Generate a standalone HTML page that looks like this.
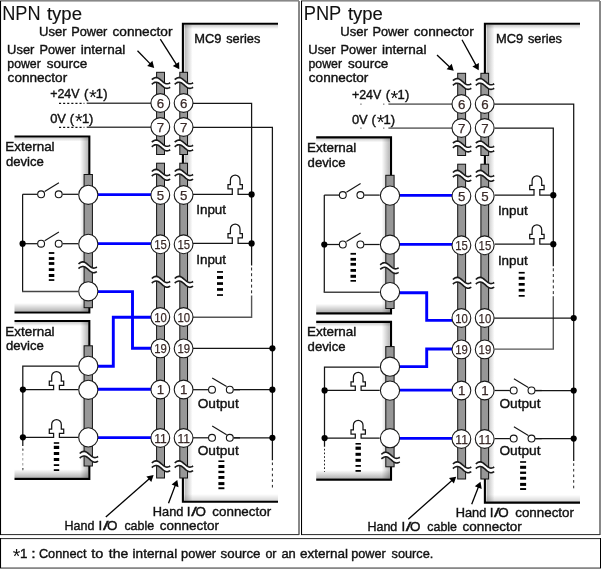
<!DOCTYPE html>
<html lang="en"><head><meta charset="utf-8"><title>NPN / PNP type wiring</title>
<style>html,body{margin:0;padding:0;background:#fff}svg{display:block}text{font-family:"Liberation Sans",sans-serif}</style></head><body>
<svg width="601" height="569" viewBox="0 0 601 569" style="will-change:transform">
<defs>
<linearGradient id="gL" x1="0" y1="0" x2="1" y2="0"><stop offset="0" stop-color="#000" stop-opacity=".28"/><stop offset="1" stop-color="#000" stop-opacity="0"/></linearGradient>
<linearGradient id="gR" x1="1" y1="0" x2="0" y2="0"><stop offset="0" stop-color="#000" stop-opacity=".28"/><stop offset="1" stop-color="#000" stop-opacity="0"/></linearGradient>
<linearGradient id="gT" x1="0" y1="0" x2="0" y2="1"><stop offset="0" stop-color="#000" stop-opacity=".2"/><stop offset="1" stop-color="#000" stop-opacity="0"/></linearGradient>
<linearGradient id="gB" x1="0" y1="1" x2="0" y2="0"><stop offset="0" stop-color="#000" stop-opacity=".3"/><stop offset="1" stop-color="#000" stop-opacity="0"/></linearGradient>
</defs>
<rect width="601" height="569" fill="#fff"/>
<g>
<rect x="184.6" y="25" width="8" height="475.8" fill="url(#gL)"/>
<rect x="184" y="25" width="94" height="4" fill="url(#gT)"/>
<rect x="184" y="494.0" width="94" height="7" fill="url(#gB)" opacity=".55"/>
<polyline points="278.0,23.8 182.9,23.8 182.9,501.8 278.0,501.8" fill="none" stroke="#000" stroke-width="2.1"/>
<rect x="80" y="137.5" width="8" height="174.0" fill="url(#gR)"/>
<rect x="14.5" y="137.5" width="74" height="4" fill="url(#gT)"/>
<rect x="14.5" y="303.0" width="74" height="8.5" fill="url(#gB)"/>
<polyline points="14.5,136.5 89.3,136.5 89.3,312.5 14.5,312.5" fill="none" stroke="#000" stroke-width="2.15"/>
<rect x="84.1" y="174.5" width="8.3" height="133.2" fill="#979797" stroke="#111" stroke-width="1"/>
<rect x="80" y="322.0" width="8" height="155.8" fill="url(#gR)"/>
<rect x="14.5" y="322.0" width="74" height="4" fill="url(#gT)"/>
<rect x="14.5" y="469.3" width="74" height="8.5" fill="url(#gB)"/>
<polyline points="14.5,321.0 89.3,321.0 89.3,478.8 14.5,478.8" fill="none" stroke="#000" stroke-width="2.15"/>
<rect x="84.1" y="345.8" width="8.3" height="120.2" fill="#979797" stroke="#111" stroke-width="1"/>
<polygon points="78.5,264.0 79.3,263.3 80.1,262.8 80.9,262.3 81.7,262.1 82.5,261.9 83.3,261.9 84.1,262.1 84.9,262.4 85.7,262.9 86.5,263.5 87.3,264.1 88.1,264.8 88.9,265.5 89.7,266.2 90.5,266.8 91.3,267.3 92.1,267.7 92.9,268.0 93.7,268.1 94.5,268.0 95.3,267.8 96.1,267.5 96.9,267.0 96.9,271.6 96.1,272.1 95.3,272.4 94.5,272.6 93.7,272.7 92.9,272.6 92.1,272.3 91.3,271.9 90.5,271.4 89.7,270.8 88.9,270.1 88.1,269.4 87.3,268.7 86.5,268.1 85.7,267.5 84.9,267.0 84.1,266.7 83.3,266.5 82.5,266.5 81.7,266.7 80.9,266.9 80.1,267.4 79.3,267.9 78.5,268.6" fill="#fff"/>
<polyline points="78.5,264.0 79.3,263.3 80.1,262.8 80.9,262.3 81.7,262.1 82.5,261.9 83.3,261.9 84.1,262.1 84.9,262.4 85.7,262.9 86.5,263.5 87.3,264.1 88.1,264.8 88.9,265.5 89.7,266.2 90.5,266.8 91.3,267.3 92.1,267.7 92.9,268.0 93.7,268.1 94.5,268.0 95.3,267.8 96.1,267.5 96.9,267.0" fill="none" stroke="#1a1a1a" stroke-width="1.6"/>
<polyline points="78.5,268.6 79.3,267.9 80.1,267.4 80.9,266.9 81.7,266.7 82.5,266.5 83.3,266.5 84.1,266.7 84.9,267.0 85.7,267.5 86.5,268.1 87.3,268.7 88.1,269.4 88.9,270.1 89.7,270.8 90.5,271.4 91.3,271.9 92.1,272.3 92.9,272.6 93.7,272.7 94.5,272.6 95.3,272.4 96.1,272.1 96.9,271.6" fill="none" stroke="#1a1a1a" stroke-width="1.6"/>
<polygon points="79.7,453.5 80.5,452.8 81.3,452.3 82.1,451.8 82.9,451.6 83.7,451.4 84.5,451.4 85.3,451.6 86.1,451.9 86.9,452.4 87.7,453.0 88.5,453.6 89.3,454.3 90.1,455.0 90.9,455.7 91.7,456.3 92.5,456.8 93.3,457.2 94.1,457.5 94.9,457.6 95.7,457.5 96.5,457.3 97.3,457.0 98.1,456.5 98.1,461.1 97.3,461.6 96.5,461.9 95.7,462.1 94.9,462.2 94.1,462.1 93.3,461.8 92.5,461.4 91.7,460.9 90.9,460.3 90.1,459.6 89.3,458.9 88.5,458.2 87.7,457.6 86.9,457.0 86.1,456.5 85.3,456.2 84.5,456.0 83.7,456.0 82.9,456.2 82.1,456.4 81.3,456.9 80.5,457.4 79.7,458.1" fill="#fff"/>
<polyline points="79.7,453.5 80.5,452.8 81.3,452.3 82.1,451.8 82.9,451.6 83.7,451.4 84.5,451.4 85.3,451.6 86.1,451.9 86.9,452.4 87.7,453.0 88.5,453.6 89.3,454.3 90.1,455.0 90.9,455.7 91.7,456.3 92.5,456.8 93.3,457.2 94.1,457.5 94.9,457.6 95.7,457.5 96.5,457.3 97.3,457.0 98.1,456.5" fill="none" stroke="#1a1a1a" stroke-width="1.6"/>
<polyline points="79.7,458.1 80.5,457.4 81.3,456.9 82.1,456.4 82.9,456.2 83.7,456.0 84.5,456.0 85.3,456.2 86.1,456.5 86.9,457.0 87.7,457.6 88.5,458.2 89.3,458.9 90.1,459.6 90.9,460.3 91.7,460.9 92.5,461.4 93.3,461.8 94.1,462.1 94.9,462.2 95.7,462.1 96.5,461.9 97.3,461.6 98.1,461.1" fill="none" stroke="#1a1a1a" stroke-width="1.6"/>
<rect x="156.6" y="72.3" width="7.9" height="82.2" fill="#979797" stroke="#111" stroke-width="1"/>
<rect x="156.6" y="163.2" width="7.9" height="314.8" fill="#979797" stroke="#111" stroke-width="1"/>
<rect x="179.8" y="72.3" width="7.7" height="82.2" fill="#979797" stroke="#111" stroke-width="1"/>
<rect x="179.8" y="163.2" width="7.7" height="314.8" fill="#979797" stroke="#111" stroke-width="1"/>
<polygon points="151.8,79.7 152.6,79.0 153.4,78.5 154.2,78.0 155.0,77.8 155.8,77.6 156.6,77.6 157.4,77.8 158.2,78.1 159.0,78.6 159.8,79.2 160.6,79.8 161.4,80.5 162.2,81.2 163.0,81.9 163.8,82.5 164.6,83.0 165.4,83.4 166.2,83.7 167.0,83.8 167.8,83.7 168.6,83.5 169.4,83.2 170.2,82.7 170.2,87.3 169.4,87.8 168.6,88.1 167.8,88.3 167.0,88.4 166.2,88.3 165.4,88.0 164.6,87.6 163.8,87.1 163.0,86.5 162.2,85.8 161.4,85.1 160.6,84.4 159.8,83.8 159.0,83.2 158.2,82.7 157.4,82.4 156.6,82.2 155.8,82.2 155.0,82.4 154.2,82.6 153.4,83.1 152.6,83.6 151.8,84.3" fill="#fff"/>
<polyline points="151.8,79.7 152.6,79.0 153.4,78.5 154.2,78.0 155.0,77.8 155.8,77.6 156.6,77.6 157.4,77.8 158.2,78.1 159.0,78.6 159.8,79.2 160.6,79.8 161.4,80.5 162.2,81.2 163.0,81.9 163.8,82.5 164.6,83.0 165.4,83.4 166.2,83.7 167.0,83.8 167.8,83.7 168.6,83.5 169.4,83.2 170.2,82.7" fill="none" stroke="#1a1a1a" stroke-width="1.6"/>
<polyline points="151.8,84.3 152.6,83.6 153.4,83.1 154.2,82.6 155.0,82.4 155.8,82.2 156.6,82.2 157.4,82.4 158.2,82.7 159.0,83.2 159.8,83.8 160.6,84.4 161.4,85.1 162.2,85.8 163.0,86.5 163.8,87.1 164.6,87.6 165.4,88.0 166.2,88.3 167.0,88.4 167.8,88.3 168.6,88.1 169.4,87.8 170.2,87.3" fill="none" stroke="#1a1a1a" stroke-width="1.6"/>
<polygon points="174.7,79.7 175.5,79.0 176.3,78.5 177.1,78.0 177.9,77.8 178.7,77.6 179.5,77.6 180.3,77.8 181.1,78.1 181.9,78.6 182.7,79.2 183.5,79.8 184.3,80.5 185.1,81.2 185.9,81.9 186.7,82.5 187.5,83.0 188.3,83.4 189.1,83.7 189.9,83.8 190.7,83.7 191.5,83.5 192.3,83.2 193.1,82.7 193.1,87.3 192.3,87.8 191.5,88.1 190.7,88.3 189.9,88.4 189.1,88.3 188.3,88.0 187.5,87.6 186.7,87.1 185.9,86.5 185.1,85.8 184.3,85.1 183.5,84.4 182.7,83.8 181.9,83.2 181.1,82.7 180.3,82.4 179.5,82.2 178.7,82.2 177.9,82.4 177.1,82.6 176.3,83.1 175.5,83.6 174.7,84.3" fill="#fff"/>
<polyline points="174.7,79.7 175.5,79.0 176.3,78.5 177.1,78.0 177.9,77.8 178.7,77.6 179.5,77.6 180.3,77.8 181.1,78.1 181.9,78.6 182.7,79.2 183.5,79.8 184.3,80.5 185.1,81.2 185.9,81.9 186.7,82.5 187.5,83.0 188.3,83.4 189.1,83.7 189.9,83.8 190.7,83.7 191.5,83.5 192.3,83.2 193.1,82.7" fill="none" stroke="#1a1a1a" stroke-width="1.6"/>
<polyline points="174.7,84.3 175.5,83.6 176.3,83.1 177.1,82.6 177.9,82.4 178.7,82.2 179.5,82.2 180.3,82.4 181.1,82.7 181.9,83.2 182.7,83.8 183.5,84.4 184.3,85.1 185.1,85.8 185.9,86.5 186.7,87.1 187.5,87.6 188.3,88.0 189.1,88.3 189.9,88.4 190.7,88.3 191.5,88.1 192.3,87.8 193.1,87.3" fill="none" stroke="#1a1a1a" stroke-width="1.6"/>
<polygon points="151.8,142.2 152.6,141.5 153.4,141.0 154.2,140.5 155.0,140.3 155.8,140.1 156.6,140.1 157.4,140.3 158.2,140.6 159.0,141.1 159.8,141.7 160.6,142.3 161.4,143.0 162.2,143.7 163.0,144.4 163.8,145.0 164.6,145.5 165.4,145.9 166.2,146.2 167.0,146.3 167.8,146.2 168.6,146.0 169.4,145.7 170.2,145.2 170.2,149.8 169.4,150.3 168.6,150.6 167.8,150.8 167.0,150.9 166.2,150.8 165.4,150.5 164.6,150.1 163.8,149.6 163.0,149.0 162.2,148.3 161.4,147.6 160.6,146.9 159.8,146.3 159.0,145.7 158.2,145.2 157.4,144.9 156.6,144.7 155.8,144.7 155.0,144.9 154.2,145.1 153.4,145.6 152.6,146.1 151.8,146.8" fill="#fff"/>
<polyline points="151.8,142.2 152.6,141.5 153.4,141.0 154.2,140.5 155.0,140.3 155.8,140.1 156.6,140.1 157.4,140.3 158.2,140.6 159.0,141.1 159.8,141.7 160.6,142.3 161.4,143.0 162.2,143.7 163.0,144.4 163.8,145.0 164.6,145.5 165.4,145.9 166.2,146.2 167.0,146.3 167.8,146.2 168.6,146.0 169.4,145.7 170.2,145.2" fill="none" stroke="#1a1a1a" stroke-width="1.6"/>
<polyline points="151.8,146.8 152.6,146.1 153.4,145.6 154.2,145.1 155.0,144.9 155.8,144.7 156.6,144.7 157.4,144.9 158.2,145.2 159.0,145.7 159.8,146.3 160.6,146.9 161.4,147.6 162.2,148.3 163.0,149.0 163.8,149.6 164.6,150.1 165.4,150.5 166.2,150.8 167.0,150.9 167.8,150.8 168.6,150.6 169.4,150.3 170.2,149.8" fill="none" stroke="#1a1a1a" stroke-width="1.6"/>
<polygon points="174.7,142.2 175.5,141.5 176.3,141.0 177.1,140.5 177.9,140.3 178.7,140.1 179.5,140.1 180.3,140.3 181.1,140.6 181.9,141.1 182.7,141.7 183.5,142.3 184.3,143.0 185.1,143.7 185.9,144.4 186.7,145.0 187.5,145.5 188.3,145.9 189.1,146.2 189.9,146.3 190.7,146.2 191.5,146.0 192.3,145.7 193.1,145.2 193.1,149.8 192.3,150.3 191.5,150.6 190.7,150.8 189.9,150.9 189.1,150.8 188.3,150.5 187.5,150.1 186.7,149.6 185.9,149.0 185.1,148.3 184.3,147.6 183.5,146.9 182.7,146.3 181.9,145.7 181.1,145.2 180.3,144.9 179.5,144.7 178.7,144.7 177.9,144.9 177.1,145.1 176.3,145.6 175.5,146.1 174.7,146.8" fill="#fff"/>
<polyline points="174.7,142.2 175.5,141.5 176.3,141.0 177.1,140.5 177.9,140.3 178.7,140.1 179.5,140.1 180.3,140.3 181.1,140.6 181.9,141.1 182.7,141.7 183.5,142.3 184.3,143.0 185.1,143.7 185.9,144.4 186.7,145.0 187.5,145.5 188.3,145.9 189.1,146.2 189.9,146.3 190.7,146.2 191.5,146.0 192.3,145.7 193.1,145.2" fill="none" stroke="#1a1a1a" stroke-width="1.6"/>
<polyline points="174.7,146.8 175.5,146.1 176.3,145.6 177.1,145.1 177.9,144.9 178.7,144.7 179.5,144.7 180.3,144.9 181.1,145.2 181.9,145.7 182.7,146.3 183.5,146.9 184.3,147.6 185.1,148.3 185.9,149.0 186.7,149.6 187.5,150.1 188.3,150.5 189.1,150.8 189.9,150.9 190.7,150.8 191.5,150.6 192.3,150.3 193.1,149.8" fill="none" stroke="#1a1a1a" stroke-width="1.6"/>
<polygon points="151.8,171.5 152.6,170.8 153.4,170.3 154.2,169.8 155.0,169.6 155.8,169.4 156.6,169.4 157.4,169.6 158.2,169.9 159.0,170.4 159.8,171.0 160.6,171.6 161.4,172.3 162.2,173.0 163.0,173.7 163.8,174.3 164.6,174.8 165.4,175.2 166.2,175.5 167.0,175.6 167.8,175.5 168.6,175.3 169.4,175.0 170.2,174.5 170.2,179.1 169.4,179.6 168.6,179.9 167.8,180.1 167.0,180.2 166.2,180.1 165.4,179.8 164.6,179.4 163.8,178.9 163.0,178.3 162.2,177.6 161.4,176.9 160.6,176.2 159.8,175.6 159.0,175.0 158.2,174.5 157.4,174.2 156.6,174.0 155.8,174.0 155.0,174.2 154.2,174.4 153.4,174.9 152.6,175.4 151.8,176.1" fill="#fff"/>
<polyline points="151.8,171.5 152.6,170.8 153.4,170.3 154.2,169.8 155.0,169.6 155.8,169.4 156.6,169.4 157.4,169.6 158.2,169.9 159.0,170.4 159.8,171.0 160.6,171.6 161.4,172.3 162.2,173.0 163.0,173.7 163.8,174.3 164.6,174.8 165.4,175.2 166.2,175.5 167.0,175.6 167.8,175.5 168.6,175.3 169.4,175.0 170.2,174.5" fill="none" stroke="#1a1a1a" stroke-width="1.6"/>
<polyline points="151.8,176.1 152.6,175.4 153.4,174.9 154.2,174.4 155.0,174.2 155.8,174.0 156.6,174.0 157.4,174.2 158.2,174.5 159.0,175.0 159.8,175.6 160.6,176.2 161.4,176.9 162.2,177.6 163.0,178.3 163.8,178.9 164.6,179.4 165.4,179.8 166.2,180.1 167.0,180.2 167.8,180.1 168.6,179.9 169.4,179.6 170.2,179.1" fill="none" stroke="#1a1a1a" stroke-width="1.6"/>
<polygon points="174.7,171.5 175.5,170.8 176.3,170.3 177.1,169.8 177.9,169.6 178.7,169.4 179.5,169.4 180.3,169.6 181.1,169.9 181.9,170.4 182.7,171.0 183.5,171.6 184.3,172.3 185.1,173.0 185.9,173.7 186.7,174.3 187.5,174.8 188.3,175.2 189.1,175.5 189.9,175.6 190.7,175.5 191.5,175.3 192.3,175.0 193.1,174.5 193.1,179.1 192.3,179.6 191.5,179.9 190.7,180.1 189.9,180.2 189.1,180.1 188.3,179.8 187.5,179.4 186.7,178.9 185.9,178.3 185.1,177.6 184.3,176.9 183.5,176.2 182.7,175.6 181.9,175.0 181.1,174.5 180.3,174.2 179.5,174.0 178.7,174.0 177.9,174.2 177.1,174.4 176.3,174.9 175.5,175.4 174.7,176.1" fill="#fff"/>
<polyline points="174.7,171.5 175.5,170.8 176.3,170.3 177.1,169.8 177.9,169.6 178.7,169.4 179.5,169.4 180.3,169.6 181.1,169.9 181.9,170.4 182.7,171.0 183.5,171.6 184.3,172.3 185.1,173.0 185.9,173.7 186.7,174.3 187.5,174.8 188.3,175.2 189.1,175.5 189.9,175.6 190.7,175.5 191.5,175.3 192.3,175.0 193.1,174.5" fill="none" stroke="#1a1a1a" stroke-width="1.6"/>
<polyline points="174.7,176.1 175.5,175.4 176.3,174.9 177.1,174.4 177.9,174.2 178.7,174.0 179.5,174.0 180.3,174.2 181.1,174.5 181.9,175.0 182.7,175.6 183.5,176.2 184.3,176.9 185.1,177.6 185.9,178.3 186.7,178.9 187.5,179.4 188.3,179.8 189.1,180.1 189.9,180.2 190.7,180.1 191.5,179.9 192.3,179.6 193.1,179.1" fill="none" stroke="#1a1a1a" stroke-width="1.6"/>
<polygon points="151.8,278.5 152.6,277.8 153.4,277.3 154.2,276.8 155.0,276.6 155.8,276.4 156.6,276.4 157.4,276.6 158.2,276.9 159.0,277.4 159.8,278.0 160.6,278.6 161.4,279.3 162.2,280.0 163.0,280.7 163.8,281.3 164.6,281.8 165.4,282.2 166.2,282.5 167.0,282.6 167.8,282.5 168.6,282.3 169.4,282.0 170.2,281.5 170.2,286.1 169.4,286.6 168.6,286.9 167.8,287.1 167.0,287.2 166.2,287.1 165.4,286.8 164.6,286.4 163.8,285.9 163.0,285.3 162.2,284.6 161.4,283.9 160.6,283.2 159.8,282.6 159.0,282.0 158.2,281.5 157.4,281.2 156.6,281.0 155.8,281.0 155.0,281.2 154.2,281.4 153.4,281.9 152.6,282.4 151.8,283.1" fill="#fff"/>
<polyline points="151.8,278.5 152.6,277.8 153.4,277.3 154.2,276.8 155.0,276.6 155.8,276.4 156.6,276.4 157.4,276.6 158.2,276.9 159.0,277.4 159.8,278.0 160.6,278.6 161.4,279.3 162.2,280.0 163.0,280.7 163.8,281.3 164.6,281.8 165.4,282.2 166.2,282.5 167.0,282.6 167.8,282.5 168.6,282.3 169.4,282.0 170.2,281.5" fill="none" stroke="#1a1a1a" stroke-width="1.6"/>
<polyline points="151.8,283.1 152.6,282.4 153.4,281.9 154.2,281.4 155.0,281.2 155.8,281.0 156.6,281.0 157.4,281.2 158.2,281.5 159.0,282.0 159.8,282.6 160.6,283.2 161.4,283.9 162.2,284.6 163.0,285.3 163.8,285.9 164.6,286.4 165.4,286.8 166.2,287.1 167.0,287.2 167.8,287.1 168.6,286.9 169.4,286.6 170.2,286.1" fill="none" stroke="#1a1a1a" stroke-width="1.6"/>
<polygon points="174.7,278.5 175.5,277.8 176.3,277.3 177.1,276.8 177.9,276.6 178.7,276.4 179.5,276.4 180.3,276.6 181.1,276.9 181.9,277.4 182.7,278.0 183.5,278.6 184.3,279.3 185.1,280.0 185.9,280.7 186.7,281.3 187.5,281.8 188.3,282.2 189.1,282.5 189.9,282.6 190.7,282.5 191.5,282.3 192.3,282.0 193.1,281.5 193.1,286.1 192.3,286.6 191.5,286.9 190.7,287.1 189.9,287.2 189.1,287.1 188.3,286.8 187.5,286.4 186.7,285.9 185.9,285.3 185.1,284.6 184.3,283.9 183.5,283.2 182.7,282.6 181.9,282.0 181.1,281.5 180.3,281.2 179.5,281.0 178.7,281.0 177.9,281.2 177.1,281.4 176.3,281.9 175.5,282.4 174.7,283.1" fill="#fff"/>
<polyline points="174.7,278.5 175.5,277.8 176.3,277.3 177.1,276.8 177.9,276.6 178.7,276.4 179.5,276.4 180.3,276.6 181.1,276.9 181.9,277.4 182.7,278.0 183.5,278.6 184.3,279.3 185.1,280.0 185.9,280.7 186.7,281.3 187.5,281.8 188.3,282.2 189.1,282.5 189.9,282.6 190.7,282.5 191.5,282.3 192.3,282.0 193.1,281.5" fill="none" stroke="#1a1a1a" stroke-width="1.6"/>
<polyline points="174.7,283.1 175.5,282.4 176.3,281.9 177.1,281.4 177.9,281.2 178.7,281.0 179.5,281.0 180.3,281.2 181.1,281.5 181.9,282.0 182.7,282.6 183.5,283.2 184.3,283.9 185.1,284.6 185.9,285.3 186.7,285.9 187.5,286.4 188.3,286.8 189.1,287.1 189.9,287.2 190.7,287.1 191.5,286.9 192.3,286.6 193.1,286.1" fill="none" stroke="#1a1a1a" stroke-width="1.6"/>
<polygon points="151.8,463.0 152.6,462.3 153.4,461.8 154.2,461.3 155.0,461.1 155.8,460.9 156.6,460.9 157.4,461.1 158.2,461.4 159.0,461.9 159.8,462.5 160.6,463.1 161.4,463.8 162.2,464.5 163.0,465.2 163.8,465.8 164.6,466.3 165.4,466.7 166.2,467.0 167.0,467.1 167.8,467.0 168.6,466.8 169.4,466.5 170.2,466.0 170.2,470.6 169.4,471.1 168.6,471.4 167.8,471.6 167.0,471.7 166.2,471.6 165.4,471.3 164.6,470.9 163.8,470.4 163.0,469.8 162.2,469.1 161.4,468.4 160.6,467.7 159.8,467.1 159.0,466.5 158.2,466.0 157.4,465.7 156.6,465.5 155.8,465.5 155.0,465.7 154.2,465.9 153.4,466.4 152.6,466.9 151.8,467.6" fill="#fff"/>
<polyline points="151.8,463.0 152.6,462.3 153.4,461.8 154.2,461.3 155.0,461.1 155.8,460.9 156.6,460.9 157.4,461.1 158.2,461.4 159.0,461.9 159.8,462.5 160.6,463.1 161.4,463.8 162.2,464.5 163.0,465.2 163.8,465.8 164.6,466.3 165.4,466.7 166.2,467.0 167.0,467.1 167.8,467.0 168.6,466.8 169.4,466.5 170.2,466.0" fill="none" stroke="#1a1a1a" stroke-width="1.6"/>
<polyline points="151.8,467.6 152.6,466.9 153.4,466.4 154.2,465.9 155.0,465.7 155.8,465.5 156.6,465.5 157.4,465.7 158.2,466.0 159.0,466.5 159.8,467.1 160.6,467.7 161.4,468.4 162.2,469.1 163.0,469.8 163.8,470.4 164.6,470.9 165.4,471.3 166.2,471.6 167.0,471.7 167.8,471.6 168.6,471.4 169.4,471.1 170.2,470.6" fill="none" stroke="#1a1a1a" stroke-width="1.6"/>
<polygon points="174.7,463.0 175.5,462.3 176.3,461.8 177.1,461.3 177.9,461.1 178.7,460.9 179.5,460.9 180.3,461.1 181.1,461.4 181.9,461.9 182.7,462.5 183.5,463.1 184.3,463.8 185.1,464.5 185.9,465.2 186.7,465.8 187.5,466.3 188.3,466.7 189.1,467.0 189.9,467.1 190.7,467.0 191.5,466.8 192.3,466.5 193.1,466.0 193.1,470.6 192.3,471.1 191.5,471.4 190.7,471.6 189.9,471.7 189.1,471.6 188.3,471.3 187.5,470.9 186.7,470.4 185.9,469.8 185.1,469.1 184.3,468.4 183.5,467.7 182.7,467.1 181.9,466.5 181.1,466.0 180.3,465.7 179.5,465.5 178.7,465.5 177.9,465.7 177.1,465.9 176.3,466.4 175.5,466.9 174.7,467.6" fill="#fff"/>
<polyline points="174.7,463.0 175.5,462.3 176.3,461.8 177.1,461.3 177.9,461.1 178.7,460.9 179.5,460.9 180.3,461.1 181.1,461.4 181.9,461.9 182.7,462.5 183.5,463.1 184.3,463.8 185.1,464.5 185.9,465.2 186.7,465.8 187.5,466.3 188.3,466.7 189.1,467.0 189.9,467.1 190.7,467.0 191.5,466.8 192.3,466.5 193.1,466.0" fill="none" stroke="#1a1a1a" stroke-width="1.6"/>
<polyline points="174.7,467.6 175.5,466.9 176.3,466.4 177.1,465.9 177.9,465.7 178.7,465.5 179.5,465.5 180.3,465.7 181.1,466.0 181.9,466.5 182.7,467.1 183.5,467.7 184.3,468.4 185.1,469.1 185.9,469.8 186.7,470.4 187.5,470.9 188.3,471.3 189.1,471.6 189.9,471.7 190.7,471.6 191.5,471.4 192.3,471.1 193.1,470.6" fill="none" stroke="#1a1a1a" stroke-width="1.6"/>
<line x1="59.0" y1="103.3" x2="84.4" y2="103.3" stroke="#111" stroke-width="1.3" stroke-dasharray="2.1 2"/>
<line x1="86.7" y1="103.3" x2="151.0" y2="103.3" stroke="#444" stroke-width="1.4"/>
<line x1="59.0" y1="127.3" x2="84.4" y2="127.3" stroke="#111" stroke-width="1.3" stroke-dasharray="2.1 2"/>
<line x1="86.7" y1="127.3" x2="151.0" y2="127.3" stroke="#444" stroke-width="1.4"/>
<polyline points="193.0,103.3 251.6,103.3 251.6,265.5" fill="none" stroke="#151515" stroke-width="1.25"/>
<polyline points="251.6,295.5 251.6,317.3 193.0,317.3" fill="none" stroke="#555" stroke-width="1.4"/>
<line x1="251.6" y1="267.5" x2="251.6" y2="294.0" stroke="#222" stroke-width="1" stroke-dasharray="3 2.7"/>
<path d="M193.0,194.4 H232.3 V188.9 H228.0 V184.5 H230.4 V179.9 A4.8,4.8 0 0 1 240.0,179.9 V184.5 H242.4 V188.9 H238.1 V194.4 H251.6" fill="none" stroke="#151515" stroke-width="1.25"/>
<circle cx="251.6" cy="194.4" r="3.1" fill="#000"/>
<path d="M193.0,243.4 H232.3 V237.9 H228.0 V233.5 H230.4 V228.9 A4.8,4.8 0 0 1 240.0,228.9 V233.5 H242.4 V237.9 H238.1 V243.4 H251.6" fill="none" stroke="#151515" stroke-width="1.25"/>
<circle cx="251.6" cy="243.4" r="3.1" fill="#000"/>
<rect x="217.0" y="271.1" width="6.0" height="1.7" fill="#000"/>
<rect x="217.0" y="276.0" width="6.0" height="2.9" fill="#000"/>
<rect x="217.0" y="282.2" width="6.0" height="2.7" fill="#000"/>
<rect x="217.0" y="288.1" width="6.0" height="2.7" fill="#000"/>
<rect x="217.0" y="294.2" width="6.0" height="1.7" fill="#000"/>
<rect x="218.4" y="460.4" width="6.0" height="1.6" fill="#000"/>
<rect x="218.4" y="465.0" width="6.0" height="3.0" fill="#000"/>
<rect x="218.4" y="470.8" width="6.0" height="2.3" fill="#000"/>
<rect x="218.4" y="476.0" width="6.0" height="2.9" fill="#000"/>
<rect x="218.4" y="482.1" width="6.0" height="3.0" fill="#000"/>
<rect x="218.4" y="487.3" width="6.0" height="1.9" fill="#000"/>
<line x1="22.6" y1="194.3" x2="37.3" y2="194.3" stroke="#151515" stroke-width="1.25"/>
<line x1="62.5" y1="194.3" x2="78.0" y2="194.3" stroke="#151515" stroke-width="1.25"/>
<circle cx="41.1" cy="194.3" r="3.45" fill="#fff" stroke="#151515" stroke-width="1.1"/>
<circle cx="58.7" cy="194.3" r="3.45" fill="#fff" stroke="#151515" stroke-width="1.1"/>
<line x1="58.9" y1="182.7" x2="44.7" y2="191.4" stroke="#151515" stroke-width="1.15"/>
<line x1="22.6" y1="243.7" x2="37.3" y2="243.7" stroke="#151515" stroke-width="1.25"/>
<line x1="62.5" y1="243.7" x2="78.0" y2="243.7" stroke="#151515" stroke-width="1.25"/>
<circle cx="41.1" cy="243.7" r="3.45" fill="#fff" stroke="#151515" stroke-width="1.1"/>
<circle cx="58.7" cy="243.7" r="3.45" fill="#fff" stroke="#151515" stroke-width="1.1"/>
<line x1="58.9" y1="232.1" x2="44.7" y2="240.8" stroke="#151515" stroke-width="1.15"/>
<polyline points="22.6,194.3 22.6,291.5" fill="none" stroke="#151515" stroke-width="1.25"/>
<polyline points="22.0,291.5 78.0,291.5" fill="none" stroke="#444" stroke-width="1.5"/>
<circle cx="22.6" cy="243.7" r="3.1" fill="#000"/>
<rect x="48.8" y="252.1" width="5.5" height="1.8" fill="#000"/>
<rect x="48.8" y="257.1" width="5.5" height="2.8" fill="#000"/>
<rect x="48.8" y="262.1" width="5.5" height="2.8" fill="#000"/>
<rect x="48.8" y="268.2" width="5.5" height="2.8" fill="#000"/>
<rect x="48.8" y="274.0" width="5.5" height="3.0" fill="#000"/>
<rect x="48.8" y="279.2" width="5.5" height="1.7" fill="#000"/>
<polyline points="78.0,366.2 22.8,366.2 22.8,446.0" fill="none" stroke="#151515" stroke-width="1.25"/>
<line x1="22.8" y1="448.0" x2="22.8" y2="471.0" stroke="#999" stroke-width="1" stroke-dasharray="2.5 2.5"/>
<rect x="22.2" y="449" width="1.3" height="1.7" fill="#666"/><rect x="22.2" y="468" width="1.3" height="1.7" fill="#666"/>
<path d="M22.8,389.5 H53.6 V385.4 H49.3 V381.0 H51.7 V376.4 A4.8,4.8 0 0 1 61.3,376.4 V381.0 H63.7 V385.4 H59.4 V389.5 H78.0" fill="none" stroke="#151515" stroke-width="1.25"/>
<circle cx="22.9" cy="389.6" r="3.1" fill="#000"/>
<path d="M22.8,437.3 H53.6 V433.4 H49.3 V429.0 H51.7 V424.4 A4.8,4.8 0 0 1 61.3,424.4 V429.0 H63.7 V433.4 H59.4 V437.3 H78.0" fill="none" stroke="#151515" stroke-width="1.25"/>
<circle cx="22.9" cy="437.3" r="3.1" fill="#000"/>
<rect x="53.8" y="442.2" width="5.4" height="1.6" fill="#000"/>
<rect x="53.8" y="445.8" width="5.4" height="3.2" fill="#000"/>
<rect x="53.8" y="452.0" width="5.4" height="3.0" fill="#000"/>
<rect x="53.8" y="458.0" width="5.4" height="3.0" fill="#000"/>
<rect x="53.8" y="464.2" width="5.4" height="1.8" fill="#000"/>
<rect x="53.8" y="469.2" width="5.4" height="1.8" fill="#000"/>
<polyline points="193.0,127.3 272.4,127.3 272.4,460.3" fill="none" stroke="#151515" stroke-width="1.25"/>
<line x1="193.0" y1="348.3" x2="272.4" y2="348.3" stroke="#151515" stroke-width="1.25"/>
<circle cx="272.4" cy="348.3" r="3.1" fill="#000"/>
<line x1="272.4" y1="462.5" x2="272.4" y2="489.0" stroke="#222" stroke-width="1" stroke-dasharray="2.6 3"/>
<line x1="234.0" y1="389.7" x2="272.4" y2="389.7" stroke="#151515" stroke-width="1.25"/>
<circle cx="272.4" cy="389.7" r="3.1" fill="#000"/>
<line x1="234.0" y1="437.8" x2="272.4" y2="437.8" stroke="#151515" stroke-width="1.25"/>
<circle cx="272.4" cy="437.8" r="3.1" fill="#000"/>
<line x1="193.0" y1="389.7" x2="208.2" y2="389.7" stroke="#151515" stroke-width="1.25"/>
<line x1="233.5" y1="389.7" x2="240.0" y2="389.7" stroke="#151515" stroke-width="1.25"/>
<circle cx="212" cy="389.7" r="3.45" fill="#fff" stroke="#151515" stroke-width="1.1"/>
<circle cx="229.8" cy="389.7" r="3.45" fill="#fff" stroke="#151515" stroke-width="1.1"/>
<line x1="212.2" y1="377.9" x2="226.6" y2="386.6" stroke="#151515" stroke-width="1.15"/>
<line x1="193.0" y1="437.8" x2="208.2" y2="437.8" stroke="#151515" stroke-width="1.25"/>
<line x1="233.5" y1="437.8" x2="240.0" y2="437.8" stroke="#151515" stroke-width="1.25"/>
<circle cx="212" cy="437.8" r="3.45" fill="#fff" stroke="#151515" stroke-width="1.1"/>
<circle cx="229.8" cy="437.8" r="3.45" fill="#fff" stroke="#151515" stroke-width="1.1"/>
<line x1="212.2" y1="426.0" x2="226.6" y2="434.7" stroke="#151515" stroke-width="1.15"/>
<polyline points="97.0,291.6 132.5,291.6 132.5,348.2 151.0,348.2" fill="none" stroke="#0000ff" stroke-width="2.9"/>
<polyline points="97.0,366.2 113.3,366.2 113.3,317.2 151.0,317.2" fill="none" stroke="#0000ff" stroke-width="2.9"/>
<line x1="97.0" y1="194.6" x2="151.0" y2="194.6" stroke="#0000ff" stroke-width="2.9"/>
<line x1="97.0" y1="243.6" x2="151.0" y2="243.6" stroke="#0000ff" stroke-width="2.9"/>
<line x1="97.0" y1="389.3" x2="151.0" y2="389.3" stroke="#0000ff" stroke-width="2.9"/>
<line x1="97.0" y1="437.6" x2="151.0" y2="437.6" stroke="#0000ff" stroke-width="2.9"/>
<circle cx="88.3" cy="194.8" r="9.6" fill="#fff" stroke="#1a1a1a" stroke-width="1.1"/>
<circle cx="88.3" cy="243.9" r="9.6" fill="#fff" stroke="#1a1a1a" stroke-width="1.1"/>
<circle cx="88.3" cy="291.3" r="9.6" fill="#fff" stroke="#1a1a1a" stroke-width="1.1"/>
<circle cx="88.3" cy="365.9" r="9.6" fill="#fff" stroke="#1a1a1a" stroke-width="1.1"/>
<circle cx="88.3" cy="389.8" r="9.6" fill="#fff" stroke="#1a1a1a" stroke-width="1.1"/>
<circle cx="88.3" cy="437.4" r="9.6" fill="#fff" stroke="#1a1a1a" stroke-width="1.1"/>
<circle cx="160.3" cy="103.0" r="9.4" fill="#fff" stroke="#1a1a1a" stroke-width="1.1"/>
<text x="160.5" y="107.6" font-size="13.3" text-anchor="middle" fill="#3a2a28" stroke="#3a2a28" stroke-width="0.25">6</text>
<circle cx="183.6" cy="103.0" r="9.4" fill="#fff" stroke="#1a1a1a" stroke-width="1.1"/>
<text x="183.8" y="107.6" font-size="13.3" text-anchor="middle" fill="#3a2a28" stroke="#3a2a28" stroke-width="0.25">6</text>
<circle cx="160.3" cy="127.0" r="9.4" fill="#fff" stroke="#1a1a1a" stroke-width="1.1"/>
<text x="160.5" y="131.6" font-size="13.3" text-anchor="middle" fill="#3a2a28" stroke="#3a2a28" stroke-width="0.25">7</text>
<circle cx="183.6" cy="127.0" r="9.4" fill="#fff" stroke="#1a1a1a" stroke-width="1.1"/>
<text x="183.8" y="131.6" font-size="13.3" text-anchor="middle" fill="#3a2a28" stroke="#3a2a28" stroke-width="0.25">7</text>
<circle cx="160.3" cy="195.0" r="9.4" fill="#fff" stroke="#1a1a1a" stroke-width="1.1"/>
<text x="160.5" y="199.6" font-size="13.3" text-anchor="middle" fill="#3a2a28" stroke="#3a2a28" stroke-width="0.25">5</text>
<circle cx="183.6" cy="195.0" r="9.4" fill="#fff" stroke="#1a1a1a" stroke-width="1.1"/>
<text x="183.8" y="199.6" font-size="13.3" text-anchor="middle" fill="#3a2a28" stroke="#3a2a28" stroke-width="0.25">5</text>
<circle cx="160.3" cy="244.3" r="9.4" fill="#fff" stroke="#1a1a1a" stroke-width="1.1"/>
<text x="160.5" y="248.9" font-size="13.3" text-anchor="middle" fill="#3a2a28" stroke="#3a2a28" stroke-width="0.25" textLength="12.6" lengthAdjust="spacingAndGlyphs">15</text>
<circle cx="183.6" cy="244.3" r="9.4" fill="#fff" stroke="#1a1a1a" stroke-width="1.1"/>
<text x="183.8" y="248.9" font-size="13.3" text-anchor="middle" fill="#3a2a28" stroke="#3a2a28" stroke-width="0.25" textLength="12.6" lengthAdjust="spacingAndGlyphs">15</text>
<circle cx="160.3" cy="317.0" r="9.4" fill="#fff" stroke="#1a1a1a" stroke-width="1.1"/>
<text x="160.5" y="321.6" font-size="13.3" text-anchor="middle" fill="#3a2a28" stroke="#3a2a28" stroke-width="0.25" textLength="12.6" lengthAdjust="spacingAndGlyphs">10</text>
<circle cx="183.6" cy="317.0" r="9.4" fill="#fff" stroke="#1a1a1a" stroke-width="1.1"/>
<text x="183.8" y="321.6" font-size="13.3" text-anchor="middle" fill="#3a2a28" stroke="#3a2a28" stroke-width="0.25" textLength="12.6" lengthAdjust="spacingAndGlyphs">10</text>
<circle cx="160.3" cy="348.4" r="9.4" fill="#fff" stroke="#1a1a1a" stroke-width="1.1"/>
<text x="160.5" y="353.0" font-size="13.3" text-anchor="middle" fill="#3a2a28" stroke="#3a2a28" stroke-width="0.25" textLength="12.6" lengthAdjust="spacingAndGlyphs">19</text>
<circle cx="183.6" cy="348.4" r="9.4" fill="#fff" stroke="#1a1a1a" stroke-width="1.1"/>
<text x="183.8" y="353.0" font-size="13.3" text-anchor="middle" fill="#3a2a28" stroke="#3a2a28" stroke-width="0.25" textLength="12.6" lengthAdjust="spacingAndGlyphs">19</text>
<circle cx="160.3" cy="389.5" r="9.4" fill="#fff" stroke="#1a1a1a" stroke-width="1.1"/>
<text x="160.5" y="394.1" font-size="13.3" text-anchor="middle" fill="#3a2a28" stroke="#3a2a28" stroke-width="0.25">1</text>
<circle cx="183.6" cy="389.5" r="9.4" fill="#fff" stroke="#1a1a1a" stroke-width="1.1"/>
<text x="183.8" y="394.1" font-size="13.3" text-anchor="middle" fill="#3a2a28" stroke="#3a2a28" stroke-width="0.25">1</text>
<circle cx="160.3" cy="438.0" r="9.4" fill="#fff" stroke="#1a1a1a" stroke-width="1.1"/>
<text x="160.5" y="442.6" font-size="13.3" text-anchor="middle" fill="#3a2a28" stroke="#3a2a28" stroke-width="0.25" textLength="12.6" lengthAdjust="spacingAndGlyphs">11</text>
<circle cx="183.6" cy="438.0" r="9.4" fill="#fff" stroke="#1a1a1a" stroke-width="1.1"/>
<text x="183.8" y="442.6" font-size="13.3" text-anchor="middle" fill="#3a2a28" stroke="#3a2a28" stroke-width="0.25" textLength="12.6" lengthAdjust="spacingAndGlyphs">11</text>
<line x1="137.5" y1="50.8" x2="150.5" y2="64.1" stroke="#000" stroke-width="1.3"/>
<polygon points="154.2,67.9 147.2,66.0 152.4,60.8" fill="#000"/>
<line x1="160.3" y1="39.2" x2="176.5" y2="64.7" stroke="#000" stroke-width="1.3"/>
<polygon points="179.3,69.2 172.8,65.9 179.1,61.9" fill="#000"/>
<line x1="105.8" y1="517.0" x2="149.6" y2="478.5" stroke="#000" stroke-width="1.3"/>
<polygon points="153.6,475.0 151.3,481.9 146.4,476.4" fill="#000"/>
<line x1="168.5" y1="503.2" x2="175.4" y2="485.0" stroke="#000" stroke-width="1.3"/>
<polygon points="177.3,480.0 178.5,487.2 171.6,484.6" fill="#000"/>
<text y="35.7" font-size="13.4" fill="#111" stroke="#111" stroke-width="0.4"><tspan x="39.0" textLength="27.6" lengthAdjust="spacingAndGlyphs">User</tspan> <tspan x="71.2" textLength="36.2" lengthAdjust="spacingAndGlyphs">Power</tspan> <tspan x="112.5" textLength="60.0" lengthAdjust="spacingAndGlyphs">connector</tspan></text>
<text y="53.7" font-size="13.4" fill="#111" stroke="#111" stroke-width="0.4"><tspan x="7.1" textLength="27.3" lengthAdjust="spacingAndGlyphs">User</tspan> <tspan x="39.4" textLength="36.1" lengthAdjust="spacingAndGlyphs">Power</tspan> <tspan x="80.8" textLength="44.4" lengthAdjust="spacingAndGlyphs">internal</tspan></text>
<text y="67.5" font-size="13.4" fill="#111" stroke="#111" stroke-width="0.4"><tspan x="7.3" textLength="33.5" lengthAdjust="spacingAndGlyphs">power</tspan> <tspan x="46.7" textLength="40.5" lengthAdjust="spacingAndGlyphs">source</tspan></text>
<text y="81.7" font-size="13.4" fill="#111" stroke="#111" stroke-width="0.4"><tspan x="7.6" textLength="59.6" lengthAdjust="spacingAndGlyphs">connector</tspan></text>
<text y="98.4" font-size="13" fill="#111" stroke="#111" stroke-width="0.4"><tspan x="50.2" textLength="32.8" lengthAdjust="spacingAndGlyphs">+24V </tspan><tspan x="84.0">(</tspan><tspan x="88.9" dy="5.6" font-size="20" stroke-width="0">*</tspan><tspan x="95.7" dy="-5.6">1</tspan><tspan x="103.2">)</tspan></text>
<text y="122.8" font-size="13" fill="#111" stroke="#111" stroke-width="0.4"><tspan x="50.2" textLength="19.4" lengthAdjust="spacingAndGlyphs">0V </tspan><tspan x="69.8">(</tspan><tspan x="75.1" dy="5.6" font-size="20" stroke-width="0">*</tspan><tspan x="81.9" dy="-5.6">1</tspan><tspan x="89.0">)</tspan></text>
<text y="42.7" font-size="13.4" fill="#111" stroke="#111" stroke-width="0.4"><tspan x="194.3" textLength="27.2" lengthAdjust="spacingAndGlyphs">MC9</tspan> <tspan x="226.2" textLength="34.1" lengthAdjust="spacingAndGlyphs">series</tspan></text>
<text y="150.9" font-size="13.4" fill="#111" stroke="#111" stroke-width="0.4"><tspan x="5.3" textLength="49.3" lengthAdjust="spacingAndGlyphs">External</tspan></text>
<text y="165.9" font-size="13.4" fill="#111" stroke="#111" stroke-width="0.4"><tspan x="5.9" textLength="38.0" lengthAdjust="spacingAndGlyphs">device</tspan></text>
<text y="335.7" font-size="13.4" fill="#111" stroke="#111" stroke-width="0.4"><tspan x="5.3" textLength="49.3" lengthAdjust="spacingAndGlyphs">External</tspan></text>
<text y="350.3" font-size="13.4" fill="#111" stroke="#111" stroke-width="0.4"><tspan x="5.9" textLength="38.0" lengthAdjust="spacingAndGlyphs">device</tspan></text>
<text y="214.0" font-size="13.4" fill="#111" stroke="#111" stroke-width="0.4"><tspan x="196.2" textLength="29.9" lengthAdjust="spacingAndGlyphs">Input</tspan></text>
<text y="264.3" font-size="13.4" fill="#111" stroke="#111" stroke-width="0.4"><tspan x="196.2" textLength="29.9" lengthAdjust="spacingAndGlyphs">Input</tspan></text>
<text y="407.6" font-size="13.4" fill="#111" stroke="#111" stroke-width="0.4"><tspan x="197.7" textLength="41.1" lengthAdjust="spacingAndGlyphs">Output</tspan></text>
<text y="454.6" font-size="13.4" fill="#111" stroke="#111" stroke-width="0.4"><tspan x="197.7" textLength="41.1" lengthAdjust="spacingAndGlyphs">Output</tspan></text>
<text y="516.1" font-size="13.4" fill="#111" stroke="#111" stroke-width="0.4"><tspan x="152.8" textLength="30.6" lengthAdjust="spacingAndGlyphs">Hand</tspan> <tspan x="188.7" text-anchor="middle">I</tspan><tspan x="194.0" text-anchor="middle" textLength="5.6" lengthAdjust="spacingAndGlyphs">/</tspan><tspan x="202.5" text-anchor="middle">O</tspan> <tspan x="212.3" textLength="58.8" lengthAdjust="spacingAndGlyphs">connector</tspan></text>
<text y="530.2" font-size="13.4" fill="#111" stroke="#111" stroke-width="0.4"><tspan x="64.5" textLength="29.9" lengthAdjust="spacingAndGlyphs">Hand</tspan> <tspan x="100.4" text-anchor="middle">I</tspan><tspan x="105.7" text-anchor="middle" textLength="5.6" lengthAdjust="spacingAndGlyphs">/</tspan><tspan x="114.2" text-anchor="middle">O</tspan> <tspan x="124.4" textLength="29.7" lengthAdjust="spacingAndGlyphs">cable</tspan> <tspan x="159.7" textLength="59.2" lengthAdjust="spacingAndGlyphs">connector</tspan></text>
</g>
<text y="19.8" font-size="19.6" fill="#111" stroke="#111" stroke-width="0.05"><tspan x="2.2" textLength="38.4" lengthAdjust="spacingAndGlyphs">NPN</tspan></text>
<text y="19.8" font-size="17.6" fill="#111" stroke="#111" stroke-width="0.15"><tspan x="46.9" textLength="35.1" lengthAdjust="spacingAndGlyphs">type</tspan></text>
<text y="19.8" font-size="19.6" fill="#111" stroke="#111" stroke-width="0.05"><tspan x="303.7" textLength="37.6" lengthAdjust="spacingAndGlyphs">PNP</tspan></text>
<text y="19.8" font-size="17.6" fill="#111" stroke="#111" stroke-width="0.15"><tspan x="347.9" textLength="35.0" lengthAdjust="spacingAndGlyphs">type</tspan></text>
<g>
<g transform="translate(302.0,0.0)">
<rect x="184.6" y="25" width="8" height="476.6" fill="url(#gL)"/>
<rect x="184" y="25" width="94" height="4" fill="url(#gT)"/>
<rect x="184" y="494.8" width="94" height="7" fill="url(#gB)" opacity=".55"/>
<polyline points="278.0,23.8 182.9,23.8 182.9,502.6 278.0,502.6" fill="none" stroke="#000" stroke-width="2.1"/>
</g>
<g transform="translate(301.7,0.8)">
<rect x="80" y="137.5" width="8" height="174.0" fill="url(#gR)"/>
<rect x="14.5" y="137.5" width="74" height="4" fill="url(#gT)"/>
<rect x="14.5" y="303.0" width="74" height="8.5" fill="url(#gB)"/>
<polyline points="14.5,136.5 89.3,136.5 89.3,312.5 14.5,312.5" fill="none" stroke="#000" stroke-width="2.15"/>
<rect x="84.1" y="174.5" width="8.3" height="133.2" fill="#979797" stroke="#111" stroke-width="1"/>
<rect x="80" y="322.0" width="8" height="155.8" fill="url(#gR)"/>
<rect x="14.5" y="322.0" width="74" height="4" fill="url(#gT)"/>
<rect x="14.5" y="469.3" width="74" height="8.5" fill="url(#gB)"/>
<polyline points="14.5,321.0 89.3,321.0 89.3,478.8 14.5,478.8" fill="none" stroke="#000" stroke-width="2.15"/>
<rect x="84.1" y="345.8" width="8.3" height="120.2" fill="#979797" stroke="#111" stroke-width="1"/>
<polygon points="78.5,264.0 79.3,263.3 80.1,262.8 80.9,262.3 81.7,262.1 82.5,261.9 83.3,261.9 84.1,262.1 84.9,262.4 85.7,262.9 86.5,263.5 87.3,264.1 88.1,264.8 88.9,265.5 89.7,266.2 90.5,266.8 91.3,267.3 92.1,267.7 92.9,268.0 93.7,268.1 94.5,268.0 95.3,267.8 96.1,267.5 96.9,267.0 96.9,271.6 96.1,272.1 95.3,272.4 94.5,272.6 93.7,272.7 92.9,272.6 92.1,272.3 91.3,271.9 90.5,271.4 89.7,270.8 88.9,270.1 88.1,269.4 87.3,268.7 86.5,268.1 85.7,267.5 84.9,267.0 84.1,266.7 83.3,266.5 82.5,266.5 81.7,266.7 80.9,266.9 80.1,267.4 79.3,267.9 78.5,268.6" fill="#fff"/>
<polyline points="78.5,264.0 79.3,263.3 80.1,262.8 80.9,262.3 81.7,262.1 82.5,261.9 83.3,261.9 84.1,262.1 84.9,262.4 85.7,262.9 86.5,263.5 87.3,264.1 88.1,264.8 88.9,265.5 89.7,266.2 90.5,266.8 91.3,267.3 92.1,267.7 92.9,268.0 93.7,268.1 94.5,268.0 95.3,267.8 96.1,267.5 96.9,267.0" fill="none" stroke="#1a1a1a" stroke-width="1.6"/>
<polyline points="78.5,268.6 79.3,267.9 80.1,267.4 80.9,266.9 81.7,266.7 82.5,266.5 83.3,266.5 84.1,266.7 84.9,267.0 85.7,267.5 86.5,268.1 87.3,268.7 88.1,269.4 88.9,270.1 89.7,270.8 90.5,271.4 91.3,271.9 92.1,272.3 92.9,272.6 93.7,272.7 94.5,272.6 95.3,272.4 96.1,272.1 96.9,271.6" fill="none" stroke="#1a1a1a" stroke-width="1.6"/>
<polygon points="79.7,453.5 80.5,452.8 81.3,452.3 82.1,451.8 82.9,451.6 83.7,451.4 84.5,451.4 85.3,451.6 86.1,451.9 86.9,452.4 87.7,453.0 88.5,453.6 89.3,454.3 90.1,455.0 90.9,455.7 91.7,456.3 92.5,456.8 93.3,457.2 94.1,457.5 94.9,457.6 95.7,457.5 96.5,457.3 97.3,457.0 98.1,456.5 98.1,461.1 97.3,461.6 96.5,461.9 95.7,462.1 94.9,462.2 94.1,462.1 93.3,461.8 92.5,461.4 91.7,460.9 90.9,460.3 90.1,459.6 89.3,458.9 88.5,458.2 87.7,457.6 86.9,457.0 86.1,456.5 85.3,456.2 84.5,456.0 83.7,456.0 82.9,456.2 82.1,456.4 81.3,456.9 80.5,457.4 79.7,458.1" fill="#fff"/>
<polyline points="79.7,453.5 80.5,452.8 81.3,452.3 82.1,451.8 82.9,451.6 83.7,451.4 84.5,451.4 85.3,451.6 86.1,451.9 86.9,452.4 87.7,453.0 88.5,453.6 89.3,454.3 90.1,455.0 90.9,455.7 91.7,456.3 92.5,456.8 93.3,457.2 94.1,457.5 94.9,457.6 95.7,457.5 96.5,457.3 97.3,457.0 98.1,456.5" fill="none" stroke="#1a1a1a" stroke-width="1.6"/>
<polyline points="79.7,458.1 80.5,457.4 81.3,456.9 82.1,456.4 82.9,456.2 83.7,456.0 84.5,456.0 85.3,456.2 86.1,456.5 86.9,457.0 87.7,457.6 88.5,458.2 89.3,458.9 90.1,459.6 90.9,460.3 91.7,460.9 92.5,461.4 93.3,461.8 94.1,462.1 94.9,462.2 95.7,462.1 96.5,461.9 97.3,461.6 98.1,461.1" fill="none" stroke="#1a1a1a" stroke-width="1.6"/>
</g>
<g transform="translate(301.1,1.0)">
<rect x="156.6" y="72.3" width="7.9" height="82.2" fill="#979797" stroke="#111" stroke-width="1"/>
<rect x="156.6" y="163.2" width="7.9" height="314.8" fill="#979797" stroke="#111" stroke-width="1"/>
<rect x="179.8" y="72.3" width="7.7" height="82.2" fill="#979797" stroke="#111" stroke-width="1"/>
<rect x="179.8" y="163.2" width="7.7" height="314.8" fill="#979797" stroke="#111" stroke-width="1"/>
<polygon points="151.8,79.7 152.6,79.0 153.4,78.5 154.2,78.0 155.0,77.8 155.8,77.6 156.6,77.6 157.4,77.8 158.2,78.1 159.0,78.6 159.8,79.2 160.6,79.8 161.4,80.5 162.2,81.2 163.0,81.9 163.8,82.5 164.6,83.0 165.4,83.4 166.2,83.7 167.0,83.8 167.8,83.7 168.6,83.5 169.4,83.2 170.2,82.7 170.2,87.3 169.4,87.8 168.6,88.1 167.8,88.3 167.0,88.4 166.2,88.3 165.4,88.0 164.6,87.6 163.8,87.1 163.0,86.5 162.2,85.8 161.4,85.1 160.6,84.4 159.8,83.8 159.0,83.2 158.2,82.7 157.4,82.4 156.6,82.2 155.8,82.2 155.0,82.4 154.2,82.6 153.4,83.1 152.6,83.6 151.8,84.3" fill="#fff"/>
<polyline points="151.8,79.7 152.6,79.0 153.4,78.5 154.2,78.0 155.0,77.8 155.8,77.6 156.6,77.6 157.4,77.8 158.2,78.1 159.0,78.6 159.8,79.2 160.6,79.8 161.4,80.5 162.2,81.2 163.0,81.9 163.8,82.5 164.6,83.0 165.4,83.4 166.2,83.7 167.0,83.8 167.8,83.7 168.6,83.5 169.4,83.2 170.2,82.7" fill="none" stroke="#1a1a1a" stroke-width="1.6"/>
<polyline points="151.8,84.3 152.6,83.6 153.4,83.1 154.2,82.6 155.0,82.4 155.8,82.2 156.6,82.2 157.4,82.4 158.2,82.7 159.0,83.2 159.8,83.8 160.6,84.4 161.4,85.1 162.2,85.8 163.0,86.5 163.8,87.1 164.6,87.6 165.4,88.0 166.2,88.3 167.0,88.4 167.8,88.3 168.6,88.1 169.4,87.8 170.2,87.3" fill="none" stroke="#1a1a1a" stroke-width="1.6"/>
<polygon points="174.7,79.7 175.5,79.0 176.3,78.5 177.1,78.0 177.9,77.8 178.7,77.6 179.5,77.6 180.3,77.8 181.1,78.1 181.9,78.6 182.7,79.2 183.5,79.8 184.3,80.5 185.1,81.2 185.9,81.9 186.7,82.5 187.5,83.0 188.3,83.4 189.1,83.7 189.9,83.8 190.7,83.7 191.5,83.5 192.3,83.2 193.1,82.7 193.1,87.3 192.3,87.8 191.5,88.1 190.7,88.3 189.9,88.4 189.1,88.3 188.3,88.0 187.5,87.6 186.7,87.1 185.9,86.5 185.1,85.8 184.3,85.1 183.5,84.4 182.7,83.8 181.9,83.2 181.1,82.7 180.3,82.4 179.5,82.2 178.7,82.2 177.9,82.4 177.1,82.6 176.3,83.1 175.5,83.6 174.7,84.3" fill="#fff"/>
<polyline points="174.7,79.7 175.5,79.0 176.3,78.5 177.1,78.0 177.9,77.8 178.7,77.6 179.5,77.6 180.3,77.8 181.1,78.1 181.9,78.6 182.7,79.2 183.5,79.8 184.3,80.5 185.1,81.2 185.9,81.9 186.7,82.5 187.5,83.0 188.3,83.4 189.1,83.7 189.9,83.8 190.7,83.7 191.5,83.5 192.3,83.2 193.1,82.7" fill="none" stroke="#1a1a1a" stroke-width="1.6"/>
<polyline points="174.7,84.3 175.5,83.6 176.3,83.1 177.1,82.6 177.9,82.4 178.7,82.2 179.5,82.2 180.3,82.4 181.1,82.7 181.9,83.2 182.7,83.8 183.5,84.4 184.3,85.1 185.1,85.8 185.9,86.5 186.7,87.1 187.5,87.6 188.3,88.0 189.1,88.3 189.9,88.4 190.7,88.3 191.5,88.1 192.3,87.8 193.1,87.3" fill="none" stroke="#1a1a1a" stroke-width="1.6"/>
<polygon points="151.8,142.2 152.6,141.5 153.4,141.0 154.2,140.5 155.0,140.3 155.8,140.1 156.6,140.1 157.4,140.3 158.2,140.6 159.0,141.1 159.8,141.7 160.6,142.3 161.4,143.0 162.2,143.7 163.0,144.4 163.8,145.0 164.6,145.5 165.4,145.9 166.2,146.2 167.0,146.3 167.8,146.2 168.6,146.0 169.4,145.7 170.2,145.2 170.2,149.8 169.4,150.3 168.6,150.6 167.8,150.8 167.0,150.9 166.2,150.8 165.4,150.5 164.6,150.1 163.8,149.6 163.0,149.0 162.2,148.3 161.4,147.6 160.6,146.9 159.8,146.3 159.0,145.7 158.2,145.2 157.4,144.9 156.6,144.7 155.8,144.7 155.0,144.9 154.2,145.1 153.4,145.6 152.6,146.1 151.8,146.8" fill="#fff"/>
<polyline points="151.8,142.2 152.6,141.5 153.4,141.0 154.2,140.5 155.0,140.3 155.8,140.1 156.6,140.1 157.4,140.3 158.2,140.6 159.0,141.1 159.8,141.7 160.6,142.3 161.4,143.0 162.2,143.7 163.0,144.4 163.8,145.0 164.6,145.5 165.4,145.9 166.2,146.2 167.0,146.3 167.8,146.2 168.6,146.0 169.4,145.7 170.2,145.2" fill="none" stroke="#1a1a1a" stroke-width="1.6"/>
<polyline points="151.8,146.8 152.6,146.1 153.4,145.6 154.2,145.1 155.0,144.9 155.8,144.7 156.6,144.7 157.4,144.9 158.2,145.2 159.0,145.7 159.8,146.3 160.6,146.9 161.4,147.6 162.2,148.3 163.0,149.0 163.8,149.6 164.6,150.1 165.4,150.5 166.2,150.8 167.0,150.9 167.8,150.8 168.6,150.6 169.4,150.3 170.2,149.8" fill="none" stroke="#1a1a1a" stroke-width="1.6"/>
<polygon points="174.7,142.2 175.5,141.5 176.3,141.0 177.1,140.5 177.9,140.3 178.7,140.1 179.5,140.1 180.3,140.3 181.1,140.6 181.9,141.1 182.7,141.7 183.5,142.3 184.3,143.0 185.1,143.7 185.9,144.4 186.7,145.0 187.5,145.5 188.3,145.9 189.1,146.2 189.9,146.3 190.7,146.2 191.5,146.0 192.3,145.7 193.1,145.2 193.1,149.8 192.3,150.3 191.5,150.6 190.7,150.8 189.9,150.9 189.1,150.8 188.3,150.5 187.5,150.1 186.7,149.6 185.9,149.0 185.1,148.3 184.3,147.6 183.5,146.9 182.7,146.3 181.9,145.7 181.1,145.2 180.3,144.9 179.5,144.7 178.7,144.7 177.9,144.9 177.1,145.1 176.3,145.6 175.5,146.1 174.7,146.8" fill="#fff"/>
<polyline points="174.7,142.2 175.5,141.5 176.3,141.0 177.1,140.5 177.9,140.3 178.7,140.1 179.5,140.1 180.3,140.3 181.1,140.6 181.9,141.1 182.7,141.7 183.5,142.3 184.3,143.0 185.1,143.7 185.9,144.4 186.7,145.0 187.5,145.5 188.3,145.9 189.1,146.2 189.9,146.3 190.7,146.2 191.5,146.0 192.3,145.7 193.1,145.2" fill="none" stroke="#1a1a1a" stroke-width="1.6"/>
<polyline points="174.7,146.8 175.5,146.1 176.3,145.6 177.1,145.1 177.9,144.9 178.7,144.7 179.5,144.7 180.3,144.9 181.1,145.2 181.9,145.7 182.7,146.3 183.5,146.9 184.3,147.6 185.1,148.3 185.9,149.0 186.7,149.6 187.5,150.1 188.3,150.5 189.1,150.8 189.9,150.9 190.7,150.8 191.5,150.6 192.3,150.3 193.1,149.8" fill="none" stroke="#1a1a1a" stroke-width="1.6"/>
<polygon points="151.8,171.5 152.6,170.8 153.4,170.3 154.2,169.8 155.0,169.6 155.8,169.4 156.6,169.4 157.4,169.6 158.2,169.9 159.0,170.4 159.8,171.0 160.6,171.6 161.4,172.3 162.2,173.0 163.0,173.7 163.8,174.3 164.6,174.8 165.4,175.2 166.2,175.5 167.0,175.6 167.8,175.5 168.6,175.3 169.4,175.0 170.2,174.5 170.2,179.1 169.4,179.6 168.6,179.9 167.8,180.1 167.0,180.2 166.2,180.1 165.4,179.8 164.6,179.4 163.8,178.9 163.0,178.3 162.2,177.6 161.4,176.9 160.6,176.2 159.8,175.6 159.0,175.0 158.2,174.5 157.4,174.2 156.6,174.0 155.8,174.0 155.0,174.2 154.2,174.4 153.4,174.9 152.6,175.4 151.8,176.1" fill="#fff"/>
<polyline points="151.8,171.5 152.6,170.8 153.4,170.3 154.2,169.8 155.0,169.6 155.8,169.4 156.6,169.4 157.4,169.6 158.2,169.9 159.0,170.4 159.8,171.0 160.6,171.6 161.4,172.3 162.2,173.0 163.0,173.7 163.8,174.3 164.6,174.8 165.4,175.2 166.2,175.5 167.0,175.6 167.8,175.5 168.6,175.3 169.4,175.0 170.2,174.5" fill="none" stroke="#1a1a1a" stroke-width="1.6"/>
<polyline points="151.8,176.1 152.6,175.4 153.4,174.9 154.2,174.4 155.0,174.2 155.8,174.0 156.6,174.0 157.4,174.2 158.2,174.5 159.0,175.0 159.8,175.6 160.6,176.2 161.4,176.9 162.2,177.6 163.0,178.3 163.8,178.9 164.6,179.4 165.4,179.8 166.2,180.1 167.0,180.2 167.8,180.1 168.6,179.9 169.4,179.6 170.2,179.1" fill="none" stroke="#1a1a1a" stroke-width="1.6"/>
<polygon points="174.7,171.5 175.5,170.8 176.3,170.3 177.1,169.8 177.9,169.6 178.7,169.4 179.5,169.4 180.3,169.6 181.1,169.9 181.9,170.4 182.7,171.0 183.5,171.6 184.3,172.3 185.1,173.0 185.9,173.7 186.7,174.3 187.5,174.8 188.3,175.2 189.1,175.5 189.9,175.6 190.7,175.5 191.5,175.3 192.3,175.0 193.1,174.5 193.1,179.1 192.3,179.6 191.5,179.9 190.7,180.1 189.9,180.2 189.1,180.1 188.3,179.8 187.5,179.4 186.7,178.9 185.9,178.3 185.1,177.6 184.3,176.9 183.5,176.2 182.7,175.6 181.9,175.0 181.1,174.5 180.3,174.2 179.5,174.0 178.7,174.0 177.9,174.2 177.1,174.4 176.3,174.9 175.5,175.4 174.7,176.1" fill="#fff"/>
<polyline points="174.7,171.5 175.5,170.8 176.3,170.3 177.1,169.8 177.9,169.6 178.7,169.4 179.5,169.4 180.3,169.6 181.1,169.9 181.9,170.4 182.7,171.0 183.5,171.6 184.3,172.3 185.1,173.0 185.9,173.7 186.7,174.3 187.5,174.8 188.3,175.2 189.1,175.5 189.9,175.6 190.7,175.5 191.5,175.3 192.3,175.0 193.1,174.5" fill="none" stroke="#1a1a1a" stroke-width="1.6"/>
<polyline points="174.7,176.1 175.5,175.4 176.3,174.9 177.1,174.4 177.9,174.2 178.7,174.0 179.5,174.0 180.3,174.2 181.1,174.5 181.9,175.0 182.7,175.6 183.5,176.2 184.3,176.9 185.1,177.6 185.9,178.3 186.7,178.9 187.5,179.4 188.3,179.8 189.1,180.1 189.9,180.2 190.7,180.1 191.5,179.9 192.3,179.6 193.1,179.1" fill="none" stroke="#1a1a1a" stroke-width="1.6"/>
<polygon points="151.8,278.5 152.6,277.8 153.4,277.3 154.2,276.8 155.0,276.6 155.8,276.4 156.6,276.4 157.4,276.6 158.2,276.9 159.0,277.4 159.8,278.0 160.6,278.6 161.4,279.3 162.2,280.0 163.0,280.7 163.8,281.3 164.6,281.8 165.4,282.2 166.2,282.5 167.0,282.6 167.8,282.5 168.6,282.3 169.4,282.0 170.2,281.5 170.2,286.1 169.4,286.6 168.6,286.9 167.8,287.1 167.0,287.2 166.2,287.1 165.4,286.8 164.6,286.4 163.8,285.9 163.0,285.3 162.2,284.6 161.4,283.9 160.6,283.2 159.8,282.6 159.0,282.0 158.2,281.5 157.4,281.2 156.6,281.0 155.8,281.0 155.0,281.2 154.2,281.4 153.4,281.9 152.6,282.4 151.8,283.1" fill="#fff"/>
<polyline points="151.8,278.5 152.6,277.8 153.4,277.3 154.2,276.8 155.0,276.6 155.8,276.4 156.6,276.4 157.4,276.6 158.2,276.9 159.0,277.4 159.8,278.0 160.6,278.6 161.4,279.3 162.2,280.0 163.0,280.7 163.8,281.3 164.6,281.8 165.4,282.2 166.2,282.5 167.0,282.6 167.8,282.5 168.6,282.3 169.4,282.0 170.2,281.5" fill="none" stroke="#1a1a1a" stroke-width="1.6"/>
<polyline points="151.8,283.1 152.6,282.4 153.4,281.9 154.2,281.4 155.0,281.2 155.8,281.0 156.6,281.0 157.4,281.2 158.2,281.5 159.0,282.0 159.8,282.6 160.6,283.2 161.4,283.9 162.2,284.6 163.0,285.3 163.8,285.9 164.6,286.4 165.4,286.8 166.2,287.1 167.0,287.2 167.8,287.1 168.6,286.9 169.4,286.6 170.2,286.1" fill="none" stroke="#1a1a1a" stroke-width="1.6"/>
<polygon points="174.7,278.5 175.5,277.8 176.3,277.3 177.1,276.8 177.9,276.6 178.7,276.4 179.5,276.4 180.3,276.6 181.1,276.9 181.9,277.4 182.7,278.0 183.5,278.6 184.3,279.3 185.1,280.0 185.9,280.7 186.7,281.3 187.5,281.8 188.3,282.2 189.1,282.5 189.9,282.6 190.7,282.5 191.5,282.3 192.3,282.0 193.1,281.5 193.1,286.1 192.3,286.6 191.5,286.9 190.7,287.1 189.9,287.2 189.1,287.1 188.3,286.8 187.5,286.4 186.7,285.9 185.9,285.3 185.1,284.6 184.3,283.9 183.5,283.2 182.7,282.6 181.9,282.0 181.1,281.5 180.3,281.2 179.5,281.0 178.7,281.0 177.9,281.2 177.1,281.4 176.3,281.9 175.5,282.4 174.7,283.1" fill="#fff"/>
<polyline points="174.7,278.5 175.5,277.8 176.3,277.3 177.1,276.8 177.9,276.6 178.7,276.4 179.5,276.4 180.3,276.6 181.1,276.9 181.9,277.4 182.7,278.0 183.5,278.6 184.3,279.3 185.1,280.0 185.9,280.7 186.7,281.3 187.5,281.8 188.3,282.2 189.1,282.5 189.9,282.6 190.7,282.5 191.5,282.3 192.3,282.0 193.1,281.5" fill="none" stroke="#1a1a1a" stroke-width="1.6"/>
<polyline points="174.7,283.1 175.5,282.4 176.3,281.9 177.1,281.4 177.9,281.2 178.7,281.0 179.5,281.0 180.3,281.2 181.1,281.5 181.9,282.0 182.7,282.6 183.5,283.2 184.3,283.9 185.1,284.6 185.9,285.3 186.7,285.9 187.5,286.4 188.3,286.8 189.1,287.1 189.9,287.2 190.7,287.1 191.5,286.9 192.3,286.6 193.1,286.1" fill="none" stroke="#1a1a1a" stroke-width="1.6"/>
<polygon points="151.8,463.0 152.6,462.3 153.4,461.8 154.2,461.3 155.0,461.1 155.8,460.9 156.6,460.9 157.4,461.1 158.2,461.4 159.0,461.9 159.8,462.5 160.6,463.1 161.4,463.8 162.2,464.5 163.0,465.2 163.8,465.8 164.6,466.3 165.4,466.7 166.2,467.0 167.0,467.1 167.8,467.0 168.6,466.8 169.4,466.5 170.2,466.0 170.2,470.6 169.4,471.1 168.6,471.4 167.8,471.6 167.0,471.7 166.2,471.6 165.4,471.3 164.6,470.9 163.8,470.4 163.0,469.8 162.2,469.1 161.4,468.4 160.6,467.7 159.8,467.1 159.0,466.5 158.2,466.0 157.4,465.7 156.6,465.5 155.8,465.5 155.0,465.7 154.2,465.9 153.4,466.4 152.6,466.9 151.8,467.6" fill="#fff"/>
<polyline points="151.8,463.0 152.6,462.3 153.4,461.8 154.2,461.3 155.0,461.1 155.8,460.9 156.6,460.9 157.4,461.1 158.2,461.4 159.0,461.9 159.8,462.5 160.6,463.1 161.4,463.8 162.2,464.5 163.0,465.2 163.8,465.8 164.6,466.3 165.4,466.7 166.2,467.0 167.0,467.1 167.8,467.0 168.6,466.8 169.4,466.5 170.2,466.0" fill="none" stroke="#1a1a1a" stroke-width="1.6"/>
<polyline points="151.8,467.6 152.6,466.9 153.4,466.4 154.2,465.9 155.0,465.7 155.8,465.5 156.6,465.5 157.4,465.7 158.2,466.0 159.0,466.5 159.8,467.1 160.6,467.7 161.4,468.4 162.2,469.1 163.0,469.8 163.8,470.4 164.6,470.9 165.4,471.3 166.2,471.6 167.0,471.7 167.8,471.6 168.6,471.4 169.4,471.1 170.2,470.6" fill="none" stroke="#1a1a1a" stroke-width="1.6"/>
<polygon points="174.7,463.0 175.5,462.3 176.3,461.8 177.1,461.3 177.9,461.1 178.7,460.9 179.5,460.9 180.3,461.1 181.1,461.4 181.9,461.9 182.7,462.5 183.5,463.1 184.3,463.8 185.1,464.5 185.9,465.2 186.7,465.8 187.5,466.3 188.3,466.7 189.1,467.0 189.9,467.1 190.7,467.0 191.5,466.8 192.3,466.5 193.1,466.0 193.1,470.6 192.3,471.1 191.5,471.4 190.7,471.6 189.9,471.7 189.1,471.6 188.3,471.3 187.5,470.9 186.7,470.4 185.9,469.8 185.1,469.1 184.3,468.4 183.5,467.7 182.7,467.1 181.9,466.5 181.1,466.0 180.3,465.7 179.5,465.5 178.7,465.5 177.9,465.7 177.1,465.9 176.3,466.4 175.5,466.9 174.7,467.6" fill="#fff"/>
<polyline points="174.7,463.0 175.5,462.3 176.3,461.8 177.1,461.3 177.9,461.1 178.7,460.9 179.5,460.9 180.3,461.1 181.1,461.4 181.9,461.9 182.7,462.5 183.5,463.1 184.3,463.8 185.1,464.5 185.9,465.2 186.7,465.8 187.5,466.3 188.3,466.7 189.1,467.0 189.9,467.1 190.7,467.0 191.5,466.8 192.3,466.5 193.1,466.0" fill="none" stroke="#1a1a1a" stroke-width="1.6"/>
<polyline points="174.7,467.6 175.5,466.9 176.3,466.4 177.1,465.9 177.9,465.7 178.7,465.5 179.5,465.5 180.3,465.7 181.1,466.0 181.9,466.5 182.7,467.1 183.5,467.7 184.3,468.4 185.1,469.1 185.9,469.8 186.7,470.4 187.5,470.9 188.3,471.3 189.1,471.6 189.9,471.7 190.7,471.6 191.5,471.4 192.3,471.1 193.1,470.6" fill="none" stroke="#1a1a1a" stroke-width="1.6"/>
</g>
<g transform="translate(301.7,0.8)">
<rect x="58.6" y="102.7" width="1.3" height="1.3" fill="#777"/>
<rect x="81.4" y="102.7" width="1.3" height="1.3" fill="#777"/>
<line x1="86.7" y1="103.3" x2="151.0" y2="103.3" stroke="#777" stroke-width="1.6"/>
<rect x="58.6" y="126.7" width="1.3" height="1.3" fill="#777"/>
<rect x="81.4" y="126.7" width="1.3" height="1.3" fill="#777"/>
<line x1="86.7" y1="127.3" x2="151.0" y2="127.3" stroke="#777" stroke-width="1.6"/>
<polyline points="193.0,127.3 251.6,127.3 251.6,265.5" fill="none" stroke="#151515" stroke-width="1.25"/>
<polyline points="251.6,295.5 251.6,348.3 193.0,348.3" fill="none" stroke="#555" stroke-width="1.4"/>
<line x1="251.6" y1="267.5" x2="251.6" y2="294.0" stroke="#222" stroke-width="1" stroke-dasharray="3 2.7"/>
<path d="M193.0,194.4 H232.3 V188.9 H228.0 V184.5 H230.4 V179.9 A4.8,4.8 0 0 1 240.0,179.9 V184.5 H242.4 V188.9 H238.1 V194.4 H251.6" fill="none" stroke="#151515" stroke-width="1.25"/>
<circle cx="251.6" cy="194.4" r="3.1" fill="#000"/>
<path d="M193.0,243.4 H232.3 V237.9 H228.0 V233.5 H230.4 V228.9 A4.8,4.8 0 0 1 240.0,228.9 V233.5 H242.4 V237.9 H238.1 V243.4 H251.6" fill="none" stroke="#151515" stroke-width="1.25"/>
<circle cx="251.6" cy="243.4" r="3.1" fill="#000"/>
<rect x="217.0" y="271.1" width="6.0" height="1.7" fill="#000"/>
<rect x="217.0" y="276.0" width="6.0" height="2.9" fill="#000"/>
<rect x="217.0" y="282.2" width="6.0" height="2.7" fill="#000"/>
<rect x="217.0" y="288.1" width="6.0" height="2.7" fill="#000"/>
<rect x="217.0" y="294.2" width="6.0" height="1.7" fill="#000"/>
<rect x="218.4" y="460.4" width="6.0" height="1.6" fill="#000"/>
<rect x="218.4" y="465.0" width="6.0" height="3.0" fill="#000"/>
<rect x="218.4" y="470.8" width="6.0" height="2.3" fill="#000"/>
<rect x="218.4" y="476.0" width="6.0" height="2.9" fill="#000"/>
<rect x="218.4" y="482.1" width="6.0" height="3.0" fill="#000"/>
<rect x="218.4" y="487.3" width="6.0" height="1.9" fill="#000"/>
<line x1="22.6" y1="194.3" x2="37.3" y2="194.3" stroke="#151515" stroke-width="1.25"/>
<line x1="62.5" y1="194.3" x2="78.0" y2="194.3" stroke="#151515" stroke-width="1.25"/>
<circle cx="41.1" cy="194.3" r="3.45" fill="#fff" stroke="#151515" stroke-width="1.1"/>
<circle cx="58.7" cy="194.3" r="3.45" fill="#fff" stroke="#151515" stroke-width="1.1"/>
<line x1="58.9" y1="182.7" x2="44.7" y2="191.4" stroke="#151515" stroke-width="1.15"/>
<line x1="22.6" y1="243.7" x2="37.3" y2="243.7" stroke="#151515" stroke-width="1.25"/>
<line x1="62.5" y1="243.7" x2="78.0" y2="243.7" stroke="#151515" stroke-width="1.25"/>
<circle cx="41.1" cy="243.7" r="3.45" fill="#fff" stroke="#151515" stroke-width="1.1"/>
<circle cx="58.7" cy="243.7" r="3.45" fill="#fff" stroke="#151515" stroke-width="1.1"/>
<line x1="58.9" y1="232.1" x2="44.7" y2="240.8" stroke="#151515" stroke-width="1.15"/>
<polyline points="22.6,194.3 22.6,291.5" fill="none" stroke="#151515" stroke-width="1.25"/>
<polyline points="22.0,291.5 78.0,291.5" fill="none" stroke="#444" stroke-width="1.5"/>
<circle cx="22.6" cy="243.7" r="3.1" fill="#000"/>
<rect x="48.8" y="252.1" width="5.5" height="1.8" fill="#000"/>
<rect x="48.8" y="257.1" width="5.5" height="2.8" fill="#000"/>
<rect x="48.8" y="262.1" width="5.5" height="2.8" fill="#000"/>
<rect x="48.8" y="268.2" width="5.5" height="2.8" fill="#000"/>
<rect x="48.8" y="274.0" width="5.5" height="3.0" fill="#000"/>
<rect x="48.8" y="279.2" width="5.5" height="1.7" fill="#000"/>
<polyline points="78.0,366.2 22.8,366.2 22.8,446.0" fill="none" stroke="#151515" stroke-width="1.25"/>
<line x1="22.8" y1="448.0" x2="22.8" y2="471.0" stroke="#222" stroke-width="1" stroke-dasharray="1.7 2"/>
<path d="M22.8,389.5 H53.6 V385.4 H49.3 V381.0 H51.7 V376.4 A4.8,4.8 0 0 1 61.3,376.4 V381.0 H63.7 V385.4 H59.4 V389.5 H78.0" fill="none" stroke="#151515" stroke-width="1.25"/>
<circle cx="22.9" cy="389.6" r="3.1" fill="#000"/>
<path d="M22.8,437.3 H53.6 V433.4 H49.3 V429.0 H51.7 V424.4 A4.8,4.8 0 0 1 61.3,424.4 V429.0 H63.7 V433.4 H59.4 V437.3 H78.0" fill="none" stroke="#151515" stroke-width="1.25"/>
<circle cx="22.9" cy="437.3" r="3.1" fill="#000"/>
<rect x="53.8" y="442.2" width="5.4" height="1.6" fill="#000"/>
<rect x="53.8" y="445.8" width="5.4" height="3.2" fill="#000"/>
<rect x="53.8" y="452.0" width="5.4" height="3.0" fill="#000"/>
<rect x="53.8" y="458.0" width="5.4" height="3.0" fill="#000"/>
<rect x="53.8" y="464.2" width="5.4" height="1.8" fill="#000"/>
<rect x="53.8" y="469.2" width="5.4" height="1.8" fill="#000"/>
</g>
<g transform="translate(301.3,0.8)">
<polyline points="193.0,103.3 272.4,103.3 272.4,460.3" fill="none" stroke="#151515" stroke-width="1.25"/>
<line x1="193.0" y1="317.3" x2="272.4" y2="317.3" stroke="#151515" stroke-width="1.25"/>
<circle cx="272.4" cy="317.3" r="3.1" fill="#000"/>
<line x1="272.4" y1="462.5" x2="272.4" y2="489.0" stroke="#222" stroke-width="1" stroke-dasharray="2.6 3"/>
<line x1="234.0" y1="389.7" x2="272.4" y2="389.7" stroke="#151515" stroke-width="1.25"/>
<circle cx="272.4" cy="389.7" r="3.1" fill="#000"/>
<line x1="234.0" y1="437.8" x2="272.4" y2="437.8" stroke="#151515" stroke-width="1.25"/>
<circle cx="272.4" cy="437.8" r="3.1" fill="#000"/>
</g>
<g transform="translate(301.7,0.8)">
<line x1="193.0" y1="389.7" x2="208.2" y2="389.7" stroke="#151515" stroke-width="1.25"/>
<line x1="233.5" y1="389.7" x2="240.0" y2="389.7" stroke="#151515" stroke-width="1.25"/>
<circle cx="212" cy="389.7" r="3.45" fill="#fff" stroke="#151515" stroke-width="1.1"/>
<circle cx="229.8" cy="389.7" r="3.45" fill="#fff" stroke="#151515" stroke-width="1.1"/>
<line x1="212.2" y1="377.9" x2="226.6" y2="386.6" stroke="#151515" stroke-width="1.15"/>
<line x1="193.0" y1="437.8" x2="208.2" y2="437.8" stroke="#151515" stroke-width="1.25"/>
<line x1="233.5" y1="437.8" x2="240.0" y2="437.8" stroke="#151515" stroke-width="1.25"/>
<circle cx="212" cy="437.8" r="3.45" fill="#fff" stroke="#151515" stroke-width="1.1"/>
<circle cx="229.8" cy="437.8" r="3.45" fill="#fff" stroke="#151515" stroke-width="1.1"/>
<line x1="212.2" y1="426.0" x2="226.6" y2="434.7" stroke="#151515" stroke-width="1.15"/>
<polyline points="97.0,291.9 125.0,291.9 125.0,319.6 151.0,319.6" fill="none" stroke="#0000ff" stroke-width="2.9"/>
<polyline points="97.0,365.8 125.0,365.8 125.0,348.2 151.0,348.2" fill="none" stroke="#0000ff" stroke-width="2.9"/>
<line x1="97.0" y1="194.6" x2="151.0" y2="194.6" stroke="#0000ff" stroke-width="2.9"/>
<line x1="97.0" y1="243.6" x2="151.0" y2="243.6" stroke="#0000ff" stroke-width="2.9"/>
<line x1="97.0" y1="389.3" x2="151.0" y2="389.3" stroke="#0000ff" stroke-width="2.9"/>
<line x1="97.0" y1="437.6" x2="151.0" y2="437.6" stroke="#0000ff" stroke-width="2.9"/>
<circle cx="88.3" cy="194.8" r="9.6" fill="#fff" stroke="#1a1a1a" stroke-width="1.1"/>
<circle cx="88.3" cy="243.9" r="9.6" fill="#fff" stroke="#1a1a1a" stroke-width="1.1"/>
<circle cx="88.3" cy="291.3" r="9.6" fill="#fff" stroke="#1a1a1a" stroke-width="1.1"/>
<circle cx="88.3" cy="365.9" r="9.6" fill="#fff" stroke="#1a1a1a" stroke-width="1.1"/>
<circle cx="88.3" cy="389.8" r="9.6" fill="#fff" stroke="#1a1a1a" stroke-width="1.1"/>
<circle cx="88.3" cy="437.4" r="9.6" fill="#fff" stroke="#1a1a1a" stroke-width="1.1"/>
</g>
<g transform="translate(301.1,1.0)">
<circle cx="160.3" cy="103.0" r="9.4" fill="#fff" stroke="#1a1a1a" stroke-width="1.1"/>
<text x="160.5" y="107.6" font-size="13.3" text-anchor="middle" fill="#3a2a28" stroke="#3a2a28" stroke-width="0.25">6</text>
<circle cx="183.6" cy="103.0" r="9.4" fill="#fff" stroke="#1a1a1a" stroke-width="1.1"/>
<text x="183.8" y="107.6" font-size="13.3" text-anchor="middle" fill="#3a2a28" stroke="#3a2a28" stroke-width="0.25">6</text>
<circle cx="160.3" cy="127.0" r="9.4" fill="#fff" stroke="#1a1a1a" stroke-width="1.1"/>
<text x="160.5" y="131.6" font-size="13.3" text-anchor="middle" fill="#3a2a28" stroke="#3a2a28" stroke-width="0.25">7</text>
<circle cx="183.6" cy="127.0" r="9.4" fill="#fff" stroke="#1a1a1a" stroke-width="1.1"/>
<text x="183.8" y="131.6" font-size="13.3" text-anchor="middle" fill="#3a2a28" stroke="#3a2a28" stroke-width="0.25">7</text>
<circle cx="160.3" cy="195.0" r="9.4" fill="#fff" stroke="#1a1a1a" stroke-width="1.1"/>
<text x="160.5" y="199.6" font-size="13.3" text-anchor="middle" fill="#3a2a28" stroke="#3a2a28" stroke-width="0.25">5</text>
<circle cx="183.6" cy="195.0" r="9.4" fill="#fff" stroke="#1a1a1a" stroke-width="1.1"/>
<text x="183.8" y="199.6" font-size="13.3" text-anchor="middle" fill="#3a2a28" stroke="#3a2a28" stroke-width="0.25">5</text>
<circle cx="160.3" cy="244.3" r="9.4" fill="#fff" stroke="#1a1a1a" stroke-width="1.1"/>
<text x="160.5" y="248.9" font-size="13.3" text-anchor="middle" fill="#3a2a28" stroke="#3a2a28" stroke-width="0.25" textLength="12.6" lengthAdjust="spacingAndGlyphs">15</text>
<circle cx="183.6" cy="244.3" r="9.4" fill="#fff" stroke="#1a1a1a" stroke-width="1.1"/>
<text x="183.8" y="248.9" font-size="13.3" text-anchor="middle" fill="#3a2a28" stroke="#3a2a28" stroke-width="0.25" textLength="12.6" lengthAdjust="spacingAndGlyphs">15</text>
<circle cx="160.3" cy="317.0" r="9.4" fill="#fff" stroke="#1a1a1a" stroke-width="1.1"/>
<text x="160.5" y="321.6" font-size="13.3" text-anchor="middle" fill="#3a2a28" stroke="#3a2a28" stroke-width="0.25" textLength="12.6" lengthAdjust="spacingAndGlyphs">10</text>
<circle cx="183.6" cy="317.0" r="9.4" fill="#fff" stroke="#1a1a1a" stroke-width="1.1"/>
<text x="183.8" y="321.6" font-size="13.3" text-anchor="middle" fill="#3a2a28" stroke="#3a2a28" stroke-width="0.25" textLength="12.6" lengthAdjust="spacingAndGlyphs">10</text>
<circle cx="160.3" cy="348.4" r="9.4" fill="#fff" stroke="#1a1a1a" stroke-width="1.1"/>
<text x="160.5" y="353.0" font-size="13.3" text-anchor="middle" fill="#3a2a28" stroke="#3a2a28" stroke-width="0.25" textLength="12.6" lengthAdjust="spacingAndGlyphs">19</text>
<circle cx="183.6" cy="348.4" r="9.4" fill="#fff" stroke="#1a1a1a" stroke-width="1.1"/>
<text x="183.8" y="353.0" font-size="13.3" text-anchor="middle" fill="#3a2a28" stroke="#3a2a28" stroke-width="0.25" textLength="12.6" lengthAdjust="spacingAndGlyphs">19</text>
<circle cx="160.3" cy="389.5" r="9.4" fill="#fff" stroke="#1a1a1a" stroke-width="1.1"/>
<text x="160.5" y="394.1" font-size="13.3" text-anchor="middle" fill="#3a2a28" stroke="#3a2a28" stroke-width="0.25">1</text>
<circle cx="183.6" cy="389.5" r="9.4" fill="#fff" stroke="#1a1a1a" stroke-width="1.1"/>
<text x="183.8" y="394.1" font-size="13.3" text-anchor="middle" fill="#3a2a28" stroke="#3a2a28" stroke-width="0.25">1</text>
<circle cx="160.3" cy="438.0" r="9.4" fill="#fff" stroke="#1a1a1a" stroke-width="1.1"/>
<text x="160.5" y="442.6" font-size="13.3" text-anchor="middle" fill="#3a2a28" stroke="#3a2a28" stroke-width="0.25" textLength="12.6" lengthAdjust="spacingAndGlyphs">11</text>
<circle cx="183.6" cy="438.0" r="9.4" fill="#fff" stroke="#1a1a1a" stroke-width="1.1"/>
<text x="183.8" y="442.6" font-size="13.3" text-anchor="middle" fill="#3a2a28" stroke="#3a2a28" stroke-width="0.25" textLength="12.6" lengthAdjust="spacingAndGlyphs">11</text>
</g>
<line x1="437.0" y1="55.0" x2="449.9" y2="67.2" stroke="#000" stroke-width="1.3"/>
<polygon points="453.7,70.8 446.6,69.2 451.7,63.8" fill="#000"/>
<line x1="462.0" y1="39.7" x2="476.2" y2="65.6" stroke="#000" stroke-width="1.3"/>
<polygon points="478.7,70.3 472.4,66.5 478.9,63.0" fill="#000"/>
<line x1="408.3" y1="519.2" x2="452.2" y2="480.2" stroke="#000" stroke-width="1.3"/>
<polygon points="456.2,476.7 453.9,483.6 449.0,478.1" fill="#000"/>
<line x1="471.7" y1="504.2" x2="478.6" y2="486.6" stroke="#000" stroke-width="1.3"/>
<polygon points="480.5,481.7 481.7,488.9 474.8,486.2" fill="#000"/>
<g transform="translate(301.2,0.0)">
<text y="35.7" font-size="13.4" fill="#111" stroke="#111" stroke-width="0.4"><tspan x="39.0" textLength="27.6" lengthAdjust="spacingAndGlyphs">User</tspan> <tspan x="71.2" textLength="36.2" lengthAdjust="spacingAndGlyphs">Power</tspan> <tspan x="112.5" textLength="60.0" lengthAdjust="spacingAndGlyphs">connector</tspan></text>
<text y="53.7" font-size="13.4" fill="#111" stroke="#111" stroke-width="0.4"><tspan x="7.1" textLength="27.3" lengthAdjust="spacingAndGlyphs">User</tspan> <tspan x="39.4" textLength="36.1" lengthAdjust="spacingAndGlyphs">Power</tspan> <tspan x="80.8" textLength="44.4" lengthAdjust="spacingAndGlyphs">internal</tspan></text>
<text y="67.5" font-size="13.4" fill="#111" stroke="#111" stroke-width="0.4"><tspan x="7.3" textLength="33.5" lengthAdjust="spacingAndGlyphs">power</tspan> <tspan x="46.7" textLength="40.5" lengthAdjust="spacingAndGlyphs">source</tspan></text>
<text y="81.7" font-size="13.4" fill="#111" stroke="#111" stroke-width="0.4"><tspan x="7.6" textLength="59.6" lengthAdjust="spacingAndGlyphs">connector</tspan></text>
</g>
<g transform="translate(301.7,0.8)">
<text y="98.4" font-size="13" fill="#111" stroke="#111" stroke-width="0.4"><tspan x="50.2" textLength="32.8" lengthAdjust="spacingAndGlyphs">+24V </tspan><tspan x="84.0">(</tspan><tspan x="88.9" dy="5.6" font-size="20" stroke-width="0">*</tspan><tspan x="95.7" dy="-5.6">1</tspan><tspan x="103.2">)</tspan></text>
<text y="122.8" font-size="13" fill="#111" stroke="#111" stroke-width="0.4"><tspan x="50.2" textLength="19.4" lengthAdjust="spacingAndGlyphs">0V </tspan><tspan x="69.8">(</tspan><tspan x="75.1" dy="5.6" font-size="20" stroke-width="0">*</tspan><tspan x="81.9" dy="-5.6">1</tspan><tspan x="89.0">)</tspan></text>
<text y="42.7" font-size="13.4" fill="#111" stroke="#111" stroke-width="0.4"><tspan x="194.3" textLength="27.2" lengthAdjust="spacingAndGlyphs">MC9</tspan> <tspan x="226.2" textLength="34.1" lengthAdjust="spacingAndGlyphs">series</tspan></text>
<text y="150.9" font-size="13.4" fill="#111" stroke="#111" stroke-width="0.4"><tspan x="5.3" textLength="49.3" lengthAdjust="spacingAndGlyphs">External</tspan></text>
<text y="165.9" font-size="13.4" fill="#111" stroke="#111" stroke-width="0.4"><tspan x="5.9" textLength="38.0" lengthAdjust="spacingAndGlyphs">device</tspan></text>
<text y="335.7" font-size="13.4" fill="#111" stroke="#111" stroke-width="0.4"><tspan x="5.3" textLength="49.3" lengthAdjust="spacingAndGlyphs">External</tspan></text>
<text y="350.3" font-size="13.4" fill="#111" stroke="#111" stroke-width="0.4"><tspan x="5.9" textLength="38.0" lengthAdjust="spacingAndGlyphs">device</tspan></text>
<text y="214.0" font-size="13.4" fill="#111" stroke="#111" stroke-width="0.4"><tspan x="196.2" textLength="29.9" lengthAdjust="spacingAndGlyphs">Input</tspan></text>
<text y="264.3" font-size="13.4" fill="#111" stroke="#111" stroke-width="0.4"><tspan x="196.2" textLength="29.9" lengthAdjust="spacingAndGlyphs">Input</tspan></text>
<text y="407.6" font-size="13.4" fill="#111" stroke="#111" stroke-width="0.4"><tspan x="197.7" textLength="41.1" lengthAdjust="spacingAndGlyphs">Output</tspan></text>
<text y="454.6" font-size="13.4" fill="#111" stroke="#111" stroke-width="0.4"><tspan x="197.7" textLength="41.1" lengthAdjust="spacingAndGlyphs">Output</tspan></text>
</g>
<g transform="translate(302.9,1.0)">
<text y="516.1" font-size="13.4" fill="#111" stroke="#111" stroke-width="0.4"><tspan x="152.8" textLength="30.6" lengthAdjust="spacingAndGlyphs">Hand</tspan> <tspan x="188.7" text-anchor="middle">I</tspan><tspan x="194.0" text-anchor="middle" textLength="5.6" lengthAdjust="spacingAndGlyphs">/</tspan><tspan x="202.5" text-anchor="middle">O</tspan> <tspan x="212.3" textLength="58.8" lengthAdjust="spacingAndGlyphs">connector</tspan></text>
<text y="530.2" font-size="13.4" fill="#111" stroke="#111" stroke-width="0.4"><tspan x="64.5" textLength="29.9" lengthAdjust="spacingAndGlyphs">Hand</tspan> <tspan x="100.4" text-anchor="middle">I</tspan><tspan x="105.7" text-anchor="middle" textLength="5.6" lengthAdjust="spacingAndGlyphs">/</tspan><tspan x="114.2" text-anchor="middle">O</tspan> <tspan x="124.4" textLength="29.7" lengthAdjust="spacingAndGlyphs">cable</tspan> <tspan x="159.7" textLength="59.2" lengthAdjust="spacingAndGlyphs">connector</tspan></text>
</g>
</g>
<rect x="0" y="0" width="299" height="1.6" fill="#888"/>
<rect x="298" y="1" width="2" height="534" fill="#888"/>
<rect x="0" y="534" width="299" height="1.1" fill="#3a3a3a"/>
<rect x="0" y="1" width="1.05" height="534" fill="#000"/>
<rect x="301" y="0" width="299" height="1.6" fill="#888"/>
<rect x="599" y="1" width="2" height="534" fill="#888"/>
<rect x="301" y="534" width="299" height="1.1" fill="#3a3a3a"/>
<rect x="301" y="1" width="1.05" height="534" fill="#000"/>
<rect x="0" y="538" width="601" height="1.1" fill="#3a3a3a"/>
<rect x="0" y="567.2" width="601" height="1.8" fill="#888"/>
<rect x="0" y="538" width="1.05" height="30" fill="#000"/>
<rect x="600" y="538" width="1" height="30" fill="#000"/>
<text y="557.5" font-size="13.4" fill="#111" stroke="#111" stroke-width="0.4"><tspan x="12.8" dy="5.6" font-size="19.5" stroke-width="0">*</tspan><tspan x="20.0" dy="-5.6">1</tspan> <tspan x="31.2" textLength="4.4" lengthAdjust="spacingAndGlyphs">:</tspan> <tspan x="38.9" textLength="47.6" lengthAdjust="spacingAndGlyphs">Connect</tspan> <tspan x="91.3" textLength="12.1" lengthAdjust="spacingAndGlyphs">to</tspan> <tspan x="108.8" textLength="19.4" lengthAdjust="spacingAndGlyphs">the</tspan> <tspan x="132.6" textLength="44.6" lengthAdjust="spacingAndGlyphs">internal</tspan> <tspan x="181.1" textLength="35.0" lengthAdjust="spacingAndGlyphs">power</tspan> <tspan x="220.6" textLength="39.9" lengthAdjust="spacingAndGlyphs">source</tspan> <tspan x="265.4" textLength="11.1" lengthAdjust="spacingAndGlyphs">or</tspan> <tspan x="281.4" textLength="14.4" lengthAdjust="spacingAndGlyphs">an</tspan> <tspan x="300.0" textLength="48.0" lengthAdjust="spacingAndGlyphs">external</tspan> <tspan x="351.2" textLength="34.6" lengthAdjust="spacingAndGlyphs">power</tspan> <tspan x="391.5" textLength="41.9" lengthAdjust="spacingAndGlyphs">source.</tspan></text>
</svg></body></html>
